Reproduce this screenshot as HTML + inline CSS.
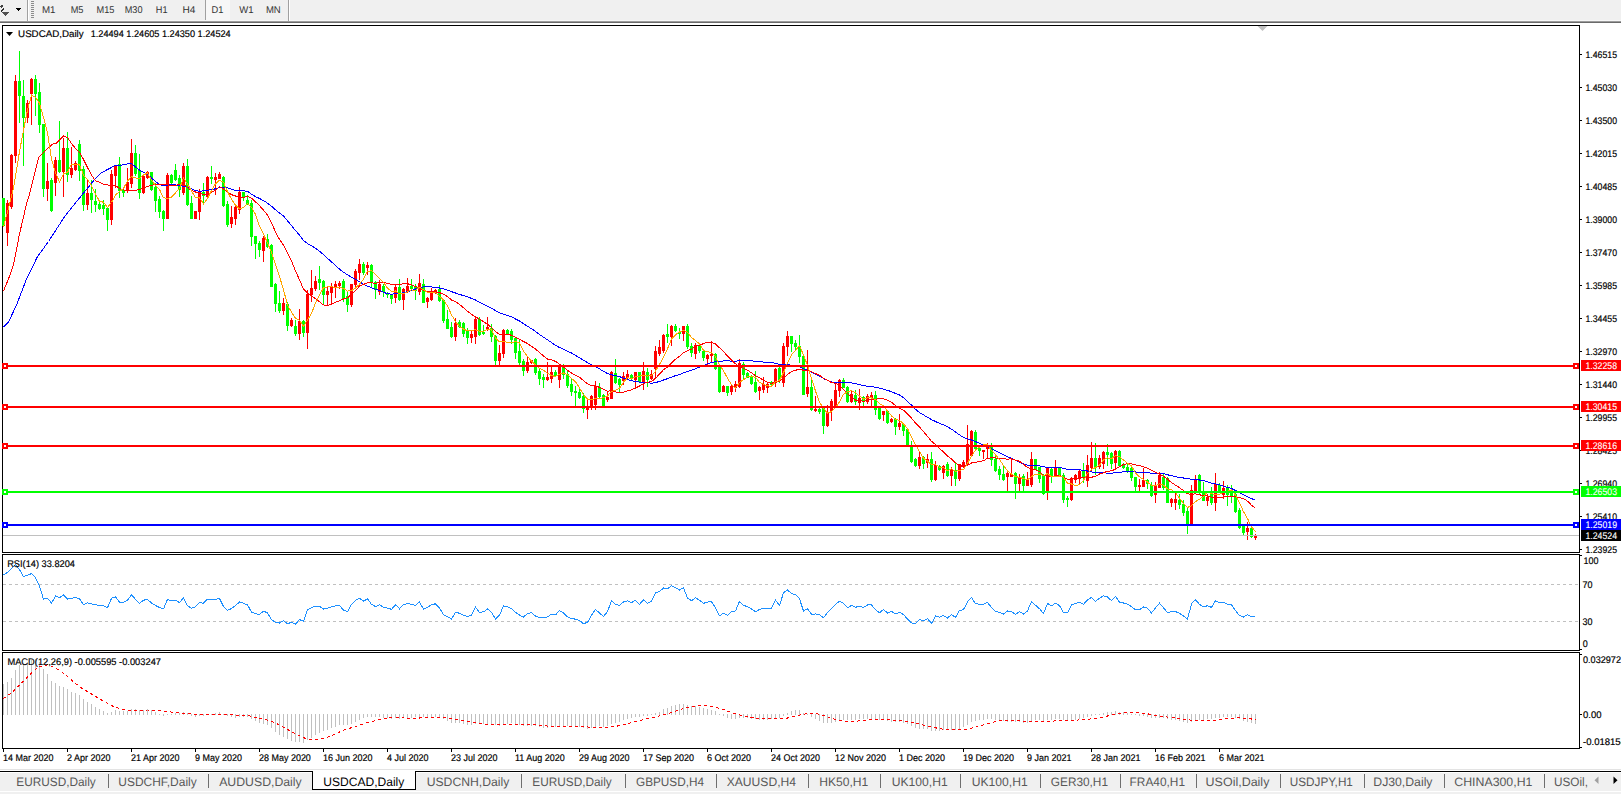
<!DOCTYPE html>
<html><head><meta charset="utf-8"><style>
html,body{margin:0;padding:0;background:#fff;width:1621px;height:794px;overflow:hidden;position:relative;font-family:"Liberation Sans",sans-serif}
</style></head><body>
<svg width="1621" height="794" viewBox="0 0 1621 794" shape-rendering="crispEdges" style="position:absolute;left:0;top:0">
<rect x="0" y="0" width="1621" height="794" fill="#ffffff" />
<rect x="0" y="0" width="1621" height="20" fill="#f0f0f0" />
<rect x="0" y="20" width="1622" height="1" fill="#f7f7f7" />
<rect x="0" y="21" width="1622" height="1" fill="#9c9c9c" />
<rect x="0" y="22" width="1622" height="1" fill="#6a6a6a" />
<path d="M0 6 L2 5 L3 6 L1 8 Z" fill="#404040"/>
<path d="M0 11 L3 8 L4 9 L1 12 Z" fill="#303030"/>
<path d="M2 12 L9 12 L5 16 Z" fill="#505050"/>
<path d="M16 8 L21 8 L18.5 11 Z" fill="#000"/>
<rect x="27" y="0" width="1" height="21" fill="#a0a0a0" />
<rect x="28" y="0" width="1" height="21" fill="#ffffff" />
<rect x="31" y="1" width="3" height="1" fill="#8c8c8c" />
<rect x="31" y="3" width="3" height="1" fill="#8c8c8c" />
<rect x="31" y="5" width="3" height="1" fill="#8c8c8c" />
<rect x="31" y="7" width="3" height="1" fill="#8c8c8c" />
<rect x="31" y="9" width="3" height="1" fill="#8c8c8c" />
<rect x="31" y="11" width="3" height="1" fill="#8c8c8c" />
<rect x="31" y="13" width="3" height="1" fill="#8c8c8c" />
<rect x="31" y="15" width="3" height="1" fill="#8c8c8c" />
<rect x="31" y="17" width="3" height="1" fill="#8c8c8c" />
<rect x="206" y="0" width="24" height="20" fill="#f7f7f7" />
<rect x="205" y="0" width="1" height="20" fill="#a0a0a0" />
<rect x="288" y="0" width="1" height="21" fill="#a0a0a0" />
<rect x="289" y="0" width="1" height="21" fill="#ffffff" />
<text x="42" y="13" font-family="Liberation Sans, sans-serif" text-rendering="geometricPrecision" font-size="9.9" fill="#333" textLength="13.5" lengthAdjust="spacingAndGlyphs">M1</text>
<text x="70.7" y="13" font-family="Liberation Sans, sans-serif" text-rendering="geometricPrecision" font-size="9.9" fill="#333" textLength="12.8" lengthAdjust="spacingAndGlyphs">M5</text>
<text x="96.6" y="13" font-family="Liberation Sans, sans-serif" text-rendering="geometricPrecision" font-size="9.9" fill="#333" textLength="17.9" lengthAdjust="spacingAndGlyphs">M15</text>
<text x="124.7" y="13" font-family="Liberation Sans, sans-serif" text-rendering="geometricPrecision" font-size="9.9" fill="#333" textLength="17.8" lengthAdjust="spacingAndGlyphs">M30</text>
<text x="155.8" y="13" font-family="Liberation Sans, sans-serif" text-rendering="geometricPrecision" font-size="9.9" fill="#333" textLength="11.7" lengthAdjust="spacingAndGlyphs">H1</text>
<text x="182.4" y="13" font-family="Liberation Sans, sans-serif" text-rendering="geometricPrecision" font-size="9.9" fill="#333" textLength="12.9" lengthAdjust="spacingAndGlyphs">H4</text>
<text x="211.6" y="13" font-family="Liberation Sans, sans-serif" text-rendering="geometricPrecision" font-size="9.9" fill="#333" textLength="11.9" lengthAdjust="spacingAndGlyphs">D1</text>
<text x="239.2" y="13" font-family="Liberation Sans, sans-serif" text-rendering="geometricPrecision" font-size="9.9" fill="#333" textLength="14.3" lengthAdjust="spacingAndGlyphs">W1</text>
<text x="265.9" y="13" font-family="Liberation Sans, sans-serif" text-rendering="geometricPrecision" font-size="9.9" fill="#333" textLength="14.8" lengthAdjust="spacingAndGlyphs">MN</text>
<rect x="2" y="25" width="1578" height="1" fill="#000" />
<rect x="2" y="552" width="1578" height="1" fill="#000" />
<rect x="2" y="25" width="1" height="528" fill="#000" />
<rect x="1579" y="25" width="1" height="528" fill="#000" />
<rect x="2" y="554" width="1578" height="1" fill="#000" />
<rect x="2" y="650" width="1578" height="1" fill="#000" />
<rect x="2" y="554" width="1" height="97" fill="#000" />
<rect x="1579" y="554" width="1" height="97" fill="#000" />
<rect x="2" y="652" width="1578" height="1" fill="#000" />
<rect x="2" y="748" width="1578" height="1" fill="#000" />
<rect x="2" y="652" width="1" height="97" fill="#000" />
<rect x="1579" y="652" width="1" height="97" fill="#000" />
<path d="M1257.5 26 L1267.5 26 L1262.5 31 Z" fill="#c0c0c0" shape-rendering="auto"/>
<rect x="1580" y="54" width="2" height="1" fill="#000" />
<text x="1585.5" y="58" font-family="Liberation Sans, sans-serif" text-rendering="geometricPrecision" font-size="9.6" fill="#000" stroke="#000" stroke-width="0.18" textLength="31.5" lengthAdjust="spacingAndGlyphs">1.46515</text>
<rect x="1580" y="87" width="2" height="1" fill="#000" />
<text x="1585.5" y="91" font-family="Liberation Sans, sans-serif" text-rendering="geometricPrecision" font-size="9.6" fill="#000" stroke="#000" stroke-width="0.18" textLength="31.5" lengthAdjust="spacingAndGlyphs">1.45030</text>
<rect x="1580" y="120" width="2" height="1" fill="#000" />
<text x="1585.5" y="124" font-family="Liberation Sans, sans-serif" text-rendering="geometricPrecision" font-size="9.6" fill="#000" stroke="#000" stroke-width="0.18" textLength="31.5" lengthAdjust="spacingAndGlyphs">1.43500</text>
<rect x="1580" y="153" width="2" height="1" fill="#000" />
<text x="1585.5" y="157" font-family="Liberation Sans, sans-serif" text-rendering="geometricPrecision" font-size="9.6" fill="#000" stroke="#000" stroke-width="0.18" textLength="31.5" lengthAdjust="spacingAndGlyphs">1.42015</text>
<rect x="1580" y="186" width="2" height="1" fill="#000" />
<text x="1585.5" y="190" font-family="Liberation Sans, sans-serif" text-rendering="geometricPrecision" font-size="9.6" fill="#000" stroke="#000" stroke-width="0.18" textLength="31.5" lengthAdjust="spacingAndGlyphs">1.40485</text>
<rect x="1580" y="219" width="2" height="1" fill="#000" />
<text x="1585.5" y="223" font-family="Liberation Sans, sans-serif" text-rendering="geometricPrecision" font-size="9.6" fill="#000" stroke="#000" stroke-width="0.18" textLength="31.5" lengthAdjust="spacingAndGlyphs">1.39000</text>
<rect x="1580" y="252" width="2" height="1" fill="#000" />
<text x="1585.5" y="256" font-family="Liberation Sans, sans-serif" text-rendering="geometricPrecision" font-size="9.6" fill="#000" stroke="#000" stroke-width="0.18" textLength="31.5" lengthAdjust="spacingAndGlyphs">1.37470</text>
<rect x="1580" y="285" width="2" height="1" fill="#000" />
<text x="1585.5" y="289" font-family="Liberation Sans, sans-serif" text-rendering="geometricPrecision" font-size="9.6" fill="#000" stroke="#000" stroke-width="0.18" textLength="31.5" lengthAdjust="spacingAndGlyphs">1.35985</text>
<rect x="1580" y="318" width="2" height="1" fill="#000" />
<text x="1585.5" y="322" font-family="Liberation Sans, sans-serif" text-rendering="geometricPrecision" font-size="9.6" fill="#000" stroke="#000" stroke-width="0.18" textLength="31.5" lengthAdjust="spacingAndGlyphs">1.34455</text>
<rect x="1580" y="351" width="2" height="1" fill="#000" />
<text x="1585.5" y="355" font-family="Liberation Sans, sans-serif" text-rendering="geometricPrecision" font-size="9.6" fill="#000" stroke="#000" stroke-width="0.18" textLength="31.5" lengthAdjust="spacingAndGlyphs">1.32970</text>
<rect x="1580" y="384" width="2" height="1" fill="#000" />
<text x="1585.5" y="388" font-family="Liberation Sans, sans-serif" text-rendering="geometricPrecision" font-size="9.6" fill="#000" stroke="#000" stroke-width="0.18" textLength="31.5" lengthAdjust="spacingAndGlyphs">1.31440</text>
<rect x="1580" y="417" width="2" height="1" fill="#000" />
<text x="1585.5" y="421" font-family="Liberation Sans, sans-serif" text-rendering="geometricPrecision" font-size="9.6" fill="#000" stroke="#000" stroke-width="0.18" textLength="31.5" lengthAdjust="spacingAndGlyphs">1.29955</text>
<rect x="1580" y="450" width="2" height="1" fill="#000" />
<text x="1585.5" y="454" font-family="Liberation Sans, sans-serif" text-rendering="geometricPrecision" font-size="9.6" fill="#000" stroke="#000" stroke-width="0.18" textLength="31.5" lengthAdjust="spacingAndGlyphs">1.28425</text>
<rect x="1580" y="483" width="2" height="1" fill="#000" />
<text x="1585.5" y="487" font-family="Liberation Sans, sans-serif" text-rendering="geometricPrecision" font-size="9.6" fill="#000" stroke="#000" stroke-width="0.18" textLength="31.5" lengthAdjust="spacingAndGlyphs">1.26940</text>
<rect x="1580" y="516" width="2" height="1" fill="#000" />
<text x="1585.5" y="520" font-family="Liberation Sans, sans-serif" text-rendering="geometricPrecision" font-size="9.6" fill="#000" stroke="#000" stroke-width="0.18" textLength="31.5" lengthAdjust="spacingAndGlyphs">1.25410</text>
<rect x="1580" y="549" width="2" height="1" fill="#000" />
<text x="1585.5" y="553" font-family="Liberation Sans, sans-serif" text-rendering="geometricPrecision" font-size="9.6" fill="#000" stroke="#000" stroke-width="0.18" textLength="31.5" lengthAdjust="spacingAndGlyphs">1.23925</text>
<g id="candles">
<rect x="3" y="198" width="1" height="29" fill="#00ff00" />
<rect x="2" y="198" width="3" height="28" fill="#00ff00" />
<rect x="7" y="200" width="1" height="46" fill="#ff0000" />
<rect x="6" y="203" width="3" height="30" fill="#ff0000" />
<rect x="11" y="154" width="1" height="55" fill="#ff0000" />
<rect x="10" y="155" width="3" height="52" fill="#ff0000" />
<rect x="15" y="75" width="1" height="88" fill="#ff0000" />
<rect x="14" y="81" width="3" height="75" fill="#ff0000" />
<rect x="19" y="51" width="1" height="72" fill="#00ff00" />
<rect x="18" y="81" width="3" height="15" fill="#00ff00" />
<rect x="23" y="80" width="1" height="86" fill="#00ff00" />
<rect x="22" y="96" width="3" height="22" fill="#00ff00" />
<rect x="27" y="100" width="1" height="23" fill="#ff0000" />
<rect x="26" y="103" width="3" height="15" fill="#ff0000" />
<rect x="31" y="78" width="1" height="47" fill="#ff0000" />
<rect x="30" y="79" width="3" height="15" fill="#ff0000" />
<rect x="35" y="75" width="1" height="41" fill="#00ff00" />
<rect x="34" y="79" width="3" height="15" fill="#00ff00" />
<rect x="39" y="83" width="1" height="50" fill="#00ff00" />
<rect x="38" y="92" width="3" height="33" fill="#00ff00" />
<rect x="43" y="124" width="1" height="73" fill="#00ff00" />
<rect x="42" y="124" width="3" height="65" fill="#00ff00" />
<rect x="47" y="163" width="1" height="38" fill="#ff0000" />
<rect x="46" y="181" width="3" height="8" fill="#ff0000" />
<rect x="51" y="178" width="1" height="34" fill="#00ff00" />
<rect x="50" y="180" width="3" height="31" fill="#00ff00" />
<rect x="55" y="157" width="1" height="39" fill="#ff0000" />
<rect x="54" y="160" width="3" height="23" fill="#ff0000" />
<rect x="59" y="121" width="1" height="52" fill="#00ff00" />
<rect x="58" y="160" width="3" height="12" fill="#00ff00" />
<rect x="63" y="138" width="1" height="59" fill="#ff0000" />
<rect x="62" y="148" width="3" height="24" fill="#ff0000" />
<rect x="67" y="132" width="1" height="50" fill="#00ff00" />
<rect x="66" y="148" width="3" height="27" fill="#00ff00" />
<rect x="71" y="147" width="1" height="31" fill="#ff0000" />
<rect x="70" y="168" width="3" height="7" fill="#ff0000" />
<rect x="75" y="161" width="1" height="10" fill="#ff0000" />
<rect x="74" y="163" width="3" height="7" fill="#ff0000" />
<rect x="79" y="140" width="1" height="41" fill="#00ff00" />
<rect x="78" y="144" width="3" height="27" fill="#00ff00" />
<rect x="83" y="166" width="1" height="45" fill="#00ff00" />
<rect x="82" y="169" width="3" height="36" fill="#00ff00" />
<rect x="87" y="180" width="1" height="30" fill="#ff0000" />
<rect x="86" y="193" width="3" height="12" fill="#ff0000" />
<rect x="91" y="180" width="1" height="33" fill="#00ff00" />
<rect x="90" y="193" width="3" height="7" fill="#00ff00" />
<rect x="95" y="189" width="1" height="23" fill="#00ff00" />
<rect x="94" y="201" width="3" height="4" fill="#00ff00" />
<rect x="99" y="202" width="1" height="8" fill="#00ff00" />
<rect x="98" y="204" width="3" height="5" fill="#00ff00" />
<rect x="103" y="200" width="1" height="15" fill="#00ff00" />
<rect x="102" y="205" width="3" height="4" fill="#00ff00" />
<rect x="107" y="207" width="1" height="24" fill="#00ff00" />
<rect x="106" y="208" width="3" height="12" fill="#00ff00" />
<rect x="111" y="170" width="1" height="55" fill="#ff0000" />
<rect x="110" y="174" width="3" height="46" fill="#ff0000" />
<rect x="115" y="165" width="1" height="23" fill="#ff0000" />
<rect x="114" y="166" width="3" height="10" fill="#ff0000" />
<rect x="119" y="157" width="1" height="41" fill="#00ff00" />
<rect x="118" y="164" width="3" height="27" fill="#00ff00" />
<rect x="123" y="189" width="1" height="8" fill="#00ff00" />
<rect x="122" y="190" width="3" height="3" fill="#00ff00" />
<rect x="127" y="168" width="1" height="25" fill="#ff0000" />
<rect x="126" y="182" width="3" height="9" fill="#ff0000" />
<rect x="131" y="139" width="1" height="49" fill="#ff0000" />
<rect x="130" y="153" width="3" height="31" fill="#ff0000" />
<rect x="135" y="145" width="1" height="31" fill="#00ff00" />
<rect x="134" y="153" width="3" height="21" fill="#00ff00" />
<rect x="139" y="154" width="1" height="45" fill="#00ff00" />
<rect x="138" y="170" width="3" height="23" fill="#00ff00" />
<rect x="143" y="174" width="1" height="20" fill="#ff0000" />
<rect x="142" y="176" width="3" height="17" fill="#ff0000" />
<rect x="147" y="171" width="1" height="8" fill="#ff0000" />
<rect x="146" y="172" width="3" height="6" fill="#ff0000" />
<rect x="151" y="172" width="1" height="19" fill="#00ff00" />
<rect x="150" y="172" width="3" height="18" fill="#00ff00" />
<rect x="155" y="183" width="1" height="29" fill="#00ff00" />
<rect x="154" y="187" width="3" height="14" fill="#00ff00" />
<rect x="159" y="196" width="1" height="22" fill="#00ff00" />
<rect x="158" y="199" width="3" height="13" fill="#00ff00" />
<rect x="163" y="210" width="1" height="21" fill="#00ff00" />
<rect x="162" y="211" width="3" height="8" fill="#00ff00" />
<rect x="167" y="173" width="1" height="46" fill="#ff0000" />
<rect x="166" y="175" width="3" height="44" fill="#ff0000" />
<rect x="171" y="174" width="1" height="12" fill="#00ff00" />
<rect x="170" y="175" width="3" height="8" fill="#00ff00" />
<rect x="175" y="164" width="1" height="17" fill="#00ff00" />
<rect x="174" y="170" width="3" height="10" fill="#00ff00" />
<rect x="179" y="175" width="1" height="22" fill="#00ff00" />
<rect x="178" y="178" width="3" height="12" fill="#00ff00" />
<rect x="183" y="163" width="1" height="32" fill="#ff0000" />
<rect x="182" y="166" width="3" height="27" fill="#ff0000" />
<rect x="187" y="159" width="1" height="47" fill="#00ff00" />
<rect x="186" y="166" width="3" height="39" fill="#00ff00" />
<rect x="191" y="196" width="1" height="23" fill="#00ff00" />
<rect x="190" y="203" width="3" height="16" fill="#00ff00" />
<rect x="195" y="211" width="1" height="8" fill="#ff0000" />
<rect x="194" y="211" width="3" height="8" fill="#ff0000" />
<rect x="199" y="189" width="1" height="31" fill="#ff0000" />
<rect x="198" y="192" width="3" height="20" fill="#ff0000" />
<rect x="203" y="183" width="1" height="22" fill="#00ff00" />
<rect x="202" y="192" width="3" height="4" fill="#00ff00" />
<rect x="207" y="176" width="1" height="22" fill="#ff0000" />
<rect x="206" y="177" width="3" height="20" fill="#ff0000" />
<rect x="211" y="166" width="1" height="18" fill="#00ff00" />
<rect x="210" y="177" width="3" height="2" fill="#00ff00" />
<rect x="215" y="173" width="1" height="22" fill="#ff0000" />
<rect x="214" y="177" width="3" height="3" fill="#ff0000" />
<rect x="219" y="172" width="1" height="7" fill="#ff0000" />
<rect x="218" y="174" width="3" height="5" fill="#ff0000" />
<rect x="223" y="176" width="1" height="31" fill="#00ff00" />
<rect x="222" y="177" width="3" height="29" fill="#00ff00" />
<rect x="227" y="201" width="1" height="26" fill="#00ff00" />
<rect x="226" y="204" width="3" height="21" fill="#00ff00" />
<rect x="231" y="206" width="1" height="22" fill="#ff0000" />
<rect x="230" y="217" width="3" height="7" fill="#ff0000" />
<rect x="235" y="204" width="1" height="21" fill="#ff0000" />
<rect x="234" y="207" width="3" height="12" fill="#ff0000" />
<rect x="239" y="187" width="1" height="27" fill="#ff0000" />
<rect x="238" y="192" width="3" height="18" fill="#ff0000" />
<rect x="243" y="192" width="1" height="9" fill="#00ff00" />
<rect x="242" y="192" width="3" height="6" fill="#00ff00" />
<rect x="247" y="195" width="1" height="10" fill="#00ff00" />
<rect x="246" y="200" width="3" height="5" fill="#00ff00" />
<rect x="251" y="200" width="1" height="46" fill="#00ff00" />
<rect x="250" y="203" width="3" height="34" fill="#00ff00" />
<rect x="255" y="236" width="1" height="23" fill="#00ff00" />
<rect x="254" y="236" width="3" height="8" fill="#00ff00" />
<rect x="259" y="241" width="1" height="16" fill="#00ff00" />
<rect x="258" y="243" width="3" height="7" fill="#00ff00" />
<rect x="263" y="236" width="1" height="26" fill="#ff0000" />
<rect x="262" y="238" width="3" height="13" fill="#ff0000" />
<rect x="267" y="234" width="1" height="14" fill="#00ff00" />
<rect x="266" y="239" width="3" height="8" fill="#00ff00" />
<rect x="271" y="244" width="1" height="43" fill="#00ff00" />
<rect x="270" y="245" width="3" height="42" fill="#00ff00" />
<rect x="275" y="283" width="1" height="29" fill="#00ff00" />
<rect x="274" y="284" width="3" height="20" fill="#00ff00" />
<rect x="279" y="291" width="1" height="22" fill="#00ff00" />
<rect x="278" y="303" width="3" height="8" fill="#00ff00" />
<rect x="283" y="298" width="1" height="17" fill="#ff0000" />
<rect x="282" y="303" width="3" height="8" fill="#ff0000" />
<rect x="287" y="302" width="1" height="29" fill="#00ff00" />
<rect x="286" y="304" width="3" height="22" fill="#00ff00" />
<rect x="291" y="318" width="1" height="9" fill="#ff0000" />
<rect x="290" y="320" width="3" height="6" fill="#ff0000" />
<rect x="295" y="320" width="1" height="16" fill="#00ff00" />
<rect x="294" y="326" width="3" height="8" fill="#00ff00" />
<rect x="299" y="309" width="1" height="31" fill="#ff0000" />
<rect x="298" y="321" width="3" height="13" fill="#ff0000" />
<rect x="303" y="320" width="1" height="17" fill="#00ff00" />
<rect x="302" y="321" width="3" height="12" fill="#00ff00" />
<rect x="307" y="290" width="1" height="59" fill="#ff0000" />
<rect x="306" y="294" width="3" height="39" fill="#ff0000" />
<rect x="311" y="270" width="1" height="32" fill="#ff0000" />
<rect x="310" y="288" width="3" height="7" fill="#ff0000" />
<rect x="315" y="276" width="1" height="15" fill="#ff0000" />
<rect x="314" y="281" width="3" height="8" fill="#ff0000" />
<rect x="319" y="266" width="1" height="24" fill="#00ff00" />
<rect x="318" y="279" width="3" height="4" fill="#00ff00" />
<rect x="323" y="280" width="1" height="25" fill="#00ff00" />
<rect x="322" y="281" width="3" height="14" fill="#00ff00" />
<rect x="327" y="286" width="1" height="20" fill="#ff0000" />
<rect x="326" y="291" width="3" height="4" fill="#ff0000" />
<rect x="331" y="283" width="1" height="21" fill="#ff0000" />
<rect x="330" y="287" width="3" height="6" fill="#ff0000" />
<rect x="335" y="281" width="1" height="17" fill="#ff0000" />
<rect x="334" y="284" width="3" height="4" fill="#ff0000" />
<rect x="339" y="281" width="1" height="8" fill="#ff0000" />
<rect x="338" y="283" width="3" height="3" fill="#ff0000" />
<rect x="343" y="279" width="1" height="23" fill="#00ff00" />
<rect x="342" y="281" width="3" height="18" fill="#00ff00" />
<rect x="347" y="292" width="1" height="20" fill="#00ff00" />
<rect x="346" y="296" width="3" height="9" fill="#00ff00" />
<rect x="351" y="284" width="1" height="23" fill="#ff0000" />
<rect x="350" y="284" width="3" height="21" fill="#ff0000" />
<rect x="355" y="269" width="1" height="19" fill="#ff0000" />
<rect x="354" y="271" width="3" height="14" fill="#ff0000" />
<rect x="359" y="259" width="1" height="21" fill="#ff0000" />
<rect x="358" y="264" width="3" height="9" fill="#ff0000" />
<rect x="363" y="262" width="1" height="13" fill="#00ff00" />
<rect x="362" y="264" width="3" height="9" fill="#00ff00" />
<rect x="367" y="262" width="1" height="13" fill="#ff0000" />
<rect x="366" y="265" width="3" height="3" fill="#ff0000" />
<rect x="371" y="264" width="1" height="23" fill="#00ff00" />
<rect x="370" y="265" width="3" height="18" fill="#00ff00" />
<rect x="375" y="281" width="1" height="18" fill="#00ff00" />
<rect x="374" y="282" width="3" height="8" fill="#00ff00" />
<rect x="379" y="280" width="1" height="15" fill="#ff0000" />
<rect x="378" y="284" width="3" height="8" fill="#ff0000" />
<rect x="383" y="284" width="1" height="13" fill="#00ff00" />
<rect x="382" y="286" width="3" height="6" fill="#00ff00" />
<rect x="387" y="292" width="1" height="6" fill="#00ff00" />
<rect x="386" y="293" width="3" height="2" fill="#00ff00" />
<rect x="391" y="294" width="1" height="10" fill="#00ff00" />
<rect x="390" y="294" width="3" height="5" fill="#00ff00" />
<rect x="395" y="285" width="1" height="18" fill="#ff0000" />
<rect x="394" y="287" width="3" height="11" fill="#ff0000" />
<rect x="399" y="279" width="1" height="22" fill="#00ff00" />
<rect x="398" y="287" width="3" height="13" fill="#00ff00" />
<rect x="403" y="288" width="1" height="22" fill="#ff0000" />
<rect x="402" y="289" width="3" height="11" fill="#ff0000" />
<rect x="407" y="278" width="1" height="15" fill="#ff0000" />
<rect x="406" y="286" width="3" height="5" fill="#ff0000" />
<rect x="411" y="279" width="1" height="10" fill="#00ff00" />
<rect x="410" y="286" width="3" height="3" fill="#00ff00" />
<rect x="415" y="284" width="1" height="16" fill="#00ff00" />
<rect x="414" y="287" width="3" height="4" fill="#00ff00" />
<rect x="419" y="274" width="1" height="21" fill="#ff0000" />
<rect x="418" y="283" width="3" height="9" fill="#ff0000" />
<rect x="423" y="279" width="1" height="24" fill="#00ff00" />
<rect x="422" y="284" width="3" height="19" fill="#00ff00" />
<rect x="427" y="297" width="1" height="11" fill="#ff0000" />
<rect x="426" y="298" width="3" height="4" fill="#ff0000" />
<rect x="431" y="288" width="1" height="13" fill="#ff0000" />
<rect x="430" y="292" width="3" height="8" fill="#ff0000" />
<rect x="435" y="289" width="1" height="5" fill="#ff0000" />
<rect x="434" y="290" width="3" height="3" fill="#ff0000" />
<rect x="439" y="285" width="1" height="17" fill="#00ff00" />
<rect x="438" y="289" width="3" height="12" fill="#00ff00" />
<rect x="443" y="300" width="1" height="23" fill="#00ff00" />
<rect x="442" y="300" width="3" height="21" fill="#00ff00" />
<rect x="447" y="310" width="1" height="19" fill="#00ff00" />
<rect x="446" y="319" width="3" height="10" fill="#00ff00" />
<rect x="451" y="322" width="1" height="16" fill="#00ff00" />
<rect x="450" y="327" width="3" height="10" fill="#00ff00" />
<rect x="455" y="318" width="1" height="23" fill="#ff0000" />
<rect x="454" y="323" width="3" height="14" fill="#ff0000" />
<rect x="459" y="320" width="1" height="8" fill="#00ff00" />
<rect x="458" y="322" width="3" height="5" fill="#00ff00" />
<rect x="463" y="322" width="1" height="15" fill="#00ff00" />
<rect x="462" y="323" width="3" height="11" fill="#00ff00" />
<rect x="467" y="328" width="1" height="16" fill="#00ff00" />
<rect x="466" y="331" width="3" height="7" fill="#00ff00" />
<rect x="471" y="331" width="1" height="12" fill="#ff0000" />
<rect x="470" y="334" width="3" height="4" fill="#ff0000" />
<rect x="475" y="316" width="1" height="28" fill="#ff0000" />
<rect x="474" y="319" width="3" height="18" fill="#ff0000" />
<rect x="479" y="317" width="1" height="19" fill="#00ff00" />
<rect x="478" y="319" width="3" height="16" fill="#00ff00" />
<rect x="483" y="325" width="1" height="10" fill="#00ff00" />
<rect x="482" y="332" width="3" height="2" fill="#00ff00" />
<rect x="487" y="317" width="1" height="14" fill="#ff0000" />
<rect x="486" y="327" width="3" height="3" fill="#ff0000" />
<rect x="491" y="324" width="1" height="18" fill="#00ff00" />
<rect x="490" y="328" width="3" height="9" fill="#00ff00" />
<rect x="495" y="335" width="1" height="31" fill="#00ff00" />
<rect x="494" y="336" width="3" height="25" fill="#00ff00" />
<rect x="499" y="345" width="1" height="20" fill="#ff0000" />
<rect x="498" y="353" width="3" height="8" fill="#ff0000" />
<rect x="503" y="329" width="1" height="29" fill="#ff0000" />
<rect x="502" y="330" width="3" height="24" fill="#ff0000" />
<rect x="507" y="329" width="1" height="6" fill="#00ff00" />
<rect x="506" y="330" width="3" height="4" fill="#00ff00" />
<rect x="511" y="329" width="1" height="15" fill="#00ff00" />
<rect x="510" y="331" width="3" height="9" fill="#00ff00" />
<rect x="515" y="338" width="1" height="21" fill="#00ff00" />
<rect x="514" y="338" width="3" height="15" fill="#00ff00" />
<rect x="519" y="340" width="1" height="26" fill="#00ff00" />
<rect x="518" y="351" width="3" height="12" fill="#00ff00" />
<rect x="523" y="359" width="1" height="17" fill="#00ff00" />
<rect x="522" y="361" width="3" height="10" fill="#00ff00" />
<rect x="527" y="357" width="1" height="16" fill="#ff0000" />
<rect x="526" y="362" width="3" height="9" fill="#ff0000" />
<rect x="531" y="360" width="1" height="4" fill="#ff0000" />
<rect x="530" y="360" width="3" height="3" fill="#ff0000" />
<rect x="535" y="358" width="1" height="17" fill="#00ff00" />
<rect x="534" y="359" width="3" height="14" fill="#00ff00" />
<rect x="539" y="368" width="1" height="17" fill="#00ff00" />
<rect x="538" y="371" width="3" height="8" fill="#00ff00" />
<rect x="543" y="374" width="1" height="14" fill="#00ff00" />
<rect x="542" y="377" width="3" height="3" fill="#00ff00" />
<rect x="547" y="362" width="1" height="19" fill="#ff0000" />
<rect x="546" y="377" width="3" height="3" fill="#ff0000" />
<rect x="551" y="367" width="1" height="16" fill="#ff0000" />
<rect x="550" y="372" width="3" height="7" fill="#ff0000" />
<rect x="555" y="370" width="1" height="7" fill="#00ff00" />
<rect x="554" y="372" width="3" height="4" fill="#00ff00" />
<rect x="559" y="365" width="1" height="23" fill="#ff0000" />
<rect x="558" y="367" width="3" height="13" fill="#ff0000" />
<rect x="563" y="364" width="1" height="15" fill="#00ff00" />
<rect x="562" y="367" width="3" height="8" fill="#00ff00" />
<rect x="567" y="370" width="1" height="18" fill="#00ff00" />
<rect x="566" y="374" width="3" height="12" fill="#00ff00" />
<rect x="571" y="379" width="1" height="17" fill="#00ff00" />
<rect x="570" y="384" width="3" height="8" fill="#00ff00" />
<rect x="575" y="386" width="1" height="21" fill="#00ff00" />
<rect x="574" y="391" width="3" height="2" fill="#00ff00" />
<rect x="579" y="388" width="1" height="11" fill="#00ff00" />
<rect x="578" y="392" width="3" height="6" fill="#00ff00" />
<rect x="583" y="393" width="1" height="20" fill="#00ff00" />
<rect x="582" y="396" width="3" height="13" fill="#00ff00" />
<rect x="587" y="399" width="1" height="20" fill="#ff0000" />
<rect x="586" y="406" width="3" height="4" fill="#ff0000" />
<rect x="591" y="395" width="1" height="15" fill="#ff0000" />
<rect x="590" y="396" width="3" height="12" fill="#ff0000" />
<rect x="595" y="381" width="1" height="29" fill="#ff0000" />
<rect x="594" y="386" width="3" height="19" fill="#ff0000" />
<rect x="599" y="383" width="1" height="16" fill="#00ff00" />
<rect x="598" y="388" width="3" height="9" fill="#00ff00" />
<rect x="603" y="394" width="1" height="13" fill="#00ff00" />
<rect x="602" y="395" width="3" height="12" fill="#00ff00" />
<rect x="607" y="392" width="1" height="10" fill="#ff0000" />
<rect x="606" y="397" width="3" height="3" fill="#ff0000" />
<rect x="611" y="371" width="1" height="28" fill="#ff0000" />
<rect x="610" y="372" width="3" height="27" fill="#ff0000" />
<rect x="615" y="359" width="1" height="25" fill="#00ff00" />
<rect x="614" y="373" width="3" height="10" fill="#00ff00" />
<rect x="619" y="378" width="1" height="14" fill="#00ff00" />
<rect x="618" y="379" width="3" height="6" fill="#00ff00" />
<rect x="623" y="372" width="1" height="13" fill="#ff0000" />
<rect x="622" y="376" width="3" height="5" fill="#ff0000" />
<rect x="627" y="370" width="1" height="10" fill="#ff0000" />
<rect x="626" y="374" width="3" height="4" fill="#ff0000" />
<rect x="631" y="374" width="1" height="7" fill="#00ff00" />
<rect x="630" y="375" width="3" height="3" fill="#00ff00" />
<rect x="635" y="372" width="1" height="16" fill="#ff0000" />
<rect x="634" y="372" width="3" height="8" fill="#ff0000" />
<rect x="639" y="372" width="1" height="11" fill="#00ff00" />
<rect x="638" y="372" width="3" height="10" fill="#00ff00" />
<rect x="643" y="362" width="1" height="28" fill="#ff0000" />
<rect x="642" y="371" width="3" height="11" fill="#ff0000" />
<rect x="647" y="368" width="1" height="19" fill="#00ff00" />
<rect x="646" y="372" width="3" height="8" fill="#00ff00" />
<rect x="651" y="370" width="1" height="10" fill="#ff0000" />
<rect x="650" y="374" width="3" height="5" fill="#ff0000" />
<rect x="655" y="346" width="1" height="32" fill="#ff0000" />
<rect x="654" y="351" width="3" height="18" fill="#ff0000" />
<rect x="659" y="340" width="1" height="16" fill="#ff0000" />
<rect x="658" y="347" width="3" height="7" fill="#ff0000" />
<rect x="663" y="334" width="1" height="19" fill="#ff0000" />
<rect x="662" y="335" width="3" height="16" fill="#ff0000" />
<rect x="667" y="324" width="1" height="19" fill="#00ff00" />
<rect x="666" y="334" width="3" height="3" fill="#00ff00" />
<rect x="671" y="325" width="1" height="21" fill="#ff0000" />
<rect x="670" y="326" width="3" height="11" fill="#ff0000" />
<rect x="675" y="324" width="1" height="8" fill="#00ff00" />
<rect x="674" y="326" width="3" height="5" fill="#00ff00" />
<rect x="679" y="328" width="1" height="11" fill="#00ff00" />
<rect x="678" y="332" width="3" height="2" fill="#00ff00" />
<rect x="683" y="326" width="1" height="15" fill="#ff0000" />
<rect x="682" y="326" width="3" height="8" fill="#ff0000" />
<rect x="687" y="324" width="1" height="25" fill="#00ff00" />
<rect x="686" y="326" width="3" height="21" fill="#00ff00" />
<rect x="691" y="343" width="1" height="14" fill="#00ff00" />
<rect x="690" y="346" width="3" height="7" fill="#00ff00" />
<rect x="695" y="343" width="1" height="16" fill="#ff0000" />
<rect x="694" y="345" width="3" height="9" fill="#ff0000" />
<rect x="699" y="345" width="1" height="8" fill="#00ff00" />
<rect x="698" y="346" width="3" height="5" fill="#00ff00" />
<rect x="703" y="350" width="1" height="11" fill="#00ff00" />
<rect x="702" y="351" width="3" height="7" fill="#00ff00" />
<rect x="707" y="354" width="1" height="11" fill="#ff0000" />
<rect x="706" y="355" width="3" height="4" fill="#ff0000" />
<rect x="711" y="341" width="1" height="22" fill="#ff0000" />
<rect x="710" y="354" width="3" height="2" fill="#ff0000" />
<rect x="715" y="353" width="1" height="17" fill="#00ff00" />
<rect x="714" y="354" width="3" height="15" fill="#00ff00" />
<rect x="719" y="367" width="1" height="26" fill="#00ff00" />
<rect x="718" y="367" width="3" height="25" fill="#00ff00" />
<rect x="723" y="385" width="1" height="7" fill="#ff0000" />
<rect x="722" y="386" width="3" height="6" fill="#ff0000" />
<rect x="727" y="386" width="1" height="10" fill="#00ff00" />
<rect x="726" y="386" width="3" height="7" fill="#00ff00" />
<rect x="731" y="385" width="1" height="10" fill="#ff0000" />
<rect x="730" y="386" width="3" height="6" fill="#ff0000" />
<rect x="735" y="381" width="1" height="11" fill="#ff0000" />
<rect x="734" y="384" width="3" height="4" fill="#ff0000" />
<rect x="739" y="359" width="1" height="29" fill="#ff0000" />
<rect x="738" y="363" width="3" height="24" fill="#ff0000" />
<rect x="743" y="362" width="1" height="17" fill="#00ff00" />
<rect x="742" y="364" width="3" height="11" fill="#00ff00" />
<rect x="747" y="372" width="1" height="6" fill="#00ff00" />
<rect x="746" y="373" width="3" height="5" fill="#00ff00" />
<rect x="751" y="375" width="1" height="10" fill="#00ff00" />
<rect x="750" y="376" width="3" height="8" fill="#00ff00" />
<rect x="755" y="371" width="1" height="22" fill="#00ff00" />
<rect x="754" y="382" width="3" height="10" fill="#00ff00" />
<rect x="759" y="386" width="1" height="14" fill="#ff0000" />
<rect x="758" y="387" width="3" height="4" fill="#ff0000" />
<rect x="763" y="377" width="1" height="16" fill="#ff0000" />
<rect x="762" y="384" width="3" height="6" fill="#ff0000" />
<rect x="767" y="382" width="1" height="11" fill="#ff0000" />
<rect x="766" y="384" width="3" height="4" fill="#ff0000" />
<rect x="771" y="381" width="1" height="6" fill="#00ff00" />
<rect x="770" y="382" width="3" height="3" fill="#00ff00" />
<rect x="775" y="368" width="1" height="19" fill="#ff0000" />
<rect x="774" y="369" width="3" height="14" fill="#ff0000" />
<rect x="779" y="367" width="1" height="16" fill="#00ff00" />
<rect x="778" y="368" width="3" height="13" fill="#00ff00" />
<rect x="783" y="343" width="1" height="44" fill="#ff0000" />
<rect x="782" y="346" width="3" height="37" fill="#ff0000" />
<rect x="787" y="331" width="1" height="25" fill="#ff0000" />
<rect x="786" y="336" width="3" height="11" fill="#ff0000" />
<rect x="791" y="336" width="1" height="16" fill="#00ff00" />
<rect x="790" y="336" width="3" height="8" fill="#00ff00" />
<rect x="795" y="340" width="1" height="11" fill="#00ff00" />
<rect x="794" y="343" width="3" height="4" fill="#00ff00" />
<rect x="799" y="335" width="1" height="28" fill="#00ff00" />
<rect x="798" y="346" width="3" height="11" fill="#00ff00" />
<rect x="803" y="355" width="1" height="40" fill="#00ff00" />
<rect x="802" y="356" width="3" height="39" fill="#00ff00" />
<rect x="807" y="350" width="1" height="47" fill="#ff0000" />
<rect x="806" y="387" width="3" height="7" fill="#ff0000" />
<rect x="811" y="380" width="1" height="31" fill="#00ff00" />
<rect x="810" y="387" width="3" height="23" fill="#00ff00" />
<rect x="815" y="396" width="1" height="16" fill="#ff0000" />
<rect x="814" y="409" width="3" height="2" fill="#ff0000" />
<rect x="819" y="408" width="1" height="6" fill="#00ff00" />
<rect x="818" y="409" width="3" height="3" fill="#00ff00" />
<rect x="823" y="408" width="1" height="26" fill="#00ff00" />
<rect x="822" y="408" width="3" height="18" fill="#00ff00" />
<rect x="827" y="405" width="1" height="22" fill="#ff0000" />
<rect x="826" y="412" width="3" height="14" fill="#ff0000" />
<rect x="831" y="399" width="1" height="22" fill="#ff0000" />
<rect x="830" y="401" width="3" height="10" fill="#ff0000" />
<rect x="835" y="383" width="1" height="25" fill="#ff0000" />
<rect x="834" y="390" width="3" height="17" fill="#ff0000" />
<rect x="839" y="379" width="1" height="18" fill="#ff0000" />
<rect x="838" y="380" width="3" height="11" fill="#ff0000" />
<rect x="843" y="378" width="1" height="10" fill="#00ff00" />
<rect x="842" y="380" width="3" height="8" fill="#00ff00" />
<rect x="847" y="386" width="1" height="17" fill="#00ff00" />
<rect x="846" y="387" width="3" height="15" fill="#00ff00" />
<rect x="851" y="390" width="1" height="13" fill="#ff0000" />
<rect x="850" y="394" width="3" height="8" fill="#ff0000" />
<rect x="855" y="390" width="1" height="15" fill="#00ff00" />
<rect x="854" y="395" width="3" height="7" fill="#00ff00" />
<rect x="859" y="389" width="1" height="21" fill="#ff0000" />
<rect x="858" y="398" width="3" height="5" fill="#ff0000" />
<rect x="863" y="396" width="1" height="11" fill="#00ff00" />
<rect x="862" y="397" width="3" height="5" fill="#00ff00" />
<rect x="867" y="394" width="1" height="10" fill="#ff0000" />
<rect x="866" y="396" width="3" height="6" fill="#ff0000" />
<rect x="871" y="392" width="1" height="16" fill="#ff0000" />
<rect x="870" y="395" width="3" height="3" fill="#ff0000" />
<rect x="875" y="391" width="1" height="24" fill="#00ff00" />
<rect x="874" y="395" width="3" height="15" fill="#00ff00" />
<rect x="879" y="406" width="1" height="14" fill="#00ff00" />
<rect x="878" y="408" width="3" height="11" fill="#00ff00" />
<rect x="883" y="411" width="1" height="10" fill="#ff0000" />
<rect x="882" y="411" width="3" height="4" fill="#ff0000" />
<rect x="887" y="410" width="1" height="14" fill="#00ff00" />
<rect x="886" y="411" width="3" height="12" fill="#00ff00" />
<rect x="891" y="418" width="1" height="5" fill="#ff0000" />
<rect x="890" y="419" width="3" height="3" fill="#ff0000" />
<rect x="895" y="418" width="1" height="17" fill="#00ff00" />
<rect x="894" y="419" width="3" height="8" fill="#00ff00" />
<rect x="899" y="414" width="1" height="16" fill="#ff0000" />
<rect x="898" y="423" width="3" height="4" fill="#ff0000" />
<rect x="903" y="423" width="1" height="13" fill="#00ff00" />
<rect x="902" y="424" width="3" height="7" fill="#00ff00" />
<rect x="907" y="428" width="1" height="18" fill="#00ff00" />
<rect x="906" y="429" width="3" height="17" fill="#00ff00" />
<rect x="911" y="441" width="1" height="22" fill="#00ff00" />
<rect x="910" y="445" width="3" height="17" fill="#00ff00" />
<rect x="915" y="458" width="1" height="9" fill="#00ff00" />
<rect x="914" y="459" width="3" height="7" fill="#00ff00" />
<rect x="919" y="452" width="1" height="17" fill="#ff0000" />
<rect x="918" y="457" width="3" height="9" fill="#ff0000" />
<rect x="923" y="456" width="1" height="13" fill="#00ff00" />
<rect x="922" y="457" width="3" height="7" fill="#00ff00" />
<rect x="927" y="454" width="1" height="14" fill="#ff0000" />
<rect x="926" y="459" width="3" height="4" fill="#ff0000" />
<rect x="931" y="452" width="1" height="30" fill="#00ff00" />
<rect x="930" y="459" width="3" height="21" fill="#00ff00" />
<rect x="935" y="461" width="1" height="20" fill="#ff0000" />
<rect x="934" y="465" width="3" height="15" fill="#ff0000" />
<rect x="939" y="465" width="1" height="6" fill="#00ff00" />
<rect x="938" y="466" width="3" height="4" fill="#00ff00" />
<rect x="943" y="465" width="1" height="14" fill="#ff0000" />
<rect x="942" y="466" width="3" height="7" fill="#ff0000" />
<rect x="947" y="462" width="1" height="15" fill="#00ff00" />
<rect x="946" y="464" width="3" height="12" fill="#00ff00" />
<rect x="951" y="467" width="1" height="19" fill="#ff0000" />
<rect x="950" y="469" width="3" height="7" fill="#ff0000" />
<rect x="955" y="463" width="1" height="23" fill="#00ff00" />
<rect x="954" y="470" width="3" height="9" fill="#00ff00" />
<rect x="959" y="464" width="1" height="17" fill="#ff0000" />
<rect x="958" y="464" width="3" height="15" fill="#ff0000" />
<rect x="963" y="460" width="1" height="8" fill="#ff0000" />
<rect x="962" y="462" width="3" height="5" fill="#ff0000" />
<rect x="967" y="425" width="1" height="40" fill="#ff0000" />
<rect x="966" y="444" width="3" height="21" fill="#ff0000" />
<rect x="971" y="430" width="1" height="27" fill="#ff0000" />
<rect x="970" y="431" width="3" height="25" fill="#ff0000" />
<rect x="975" y="430" width="1" height="20" fill="#00ff00" />
<rect x="974" y="432" width="3" height="17" fill="#00ff00" />
<rect x="979" y="445" width="1" height="11" fill="#00ff00" />
<rect x="978" y="448" width="3" height="3" fill="#00ff00" />
<rect x="983" y="450" width="1" height="9" fill="#ff0000" />
<rect x="982" y="450" width="3" height="2" fill="#ff0000" />
<rect x="987" y="443" width="1" height="16" fill="#ff0000" />
<rect x="986" y="445" width="3" height="4" fill="#ff0000" />
<rect x="991" y="443" width="1" height="23" fill="#00ff00" />
<rect x="990" y="446" width="3" height="14" fill="#00ff00" />
<rect x="995" y="454" width="1" height="18" fill="#00ff00" />
<rect x="994" y="459" width="3" height="12" fill="#00ff00" />
<rect x="999" y="466" width="1" height="14" fill="#00ff00" />
<rect x="998" y="469" width="3" height="6" fill="#00ff00" />
<rect x="1003" y="466" width="1" height="15" fill="#00ff00" />
<rect x="1002" y="474" width="3" height="6" fill="#00ff00" />
<rect x="1007" y="472" width="1" height="19" fill="#ff0000" />
<rect x="1006" y="473" width="3" height="4" fill="#ff0000" />
<rect x="1011" y="459" width="1" height="18" fill="#ff0000" />
<rect x="1010" y="474" width="3" height="3" fill="#ff0000" />
<rect x="1015" y="472" width="1" height="27" fill="#00ff00" />
<rect x="1014" y="473" width="3" height="11" fill="#00ff00" />
<rect x="1019" y="474" width="1" height="18" fill="#ff0000" />
<rect x="1018" y="478" width="3" height="6" fill="#ff0000" />
<rect x="1023" y="474" width="1" height="18" fill="#00ff00" />
<rect x="1022" y="476" width="3" height="10" fill="#00ff00" />
<rect x="1027" y="472" width="1" height="14" fill="#ff0000" />
<rect x="1026" y="479" width="3" height="7" fill="#ff0000" />
<rect x="1031" y="452" width="1" height="35" fill="#ff0000" />
<rect x="1030" y="459" width="3" height="26" fill="#ff0000" />
<rect x="1035" y="459" width="1" height="11" fill="#00ff00" />
<rect x="1034" y="459" width="3" height="11" fill="#00ff00" />
<rect x="1039" y="467" width="1" height="16" fill="#00ff00" />
<rect x="1038" y="467" width="3" height="12" fill="#00ff00" />
<rect x="1043" y="474" width="1" height="21" fill="#00ff00" />
<rect x="1042" y="476" width="3" height="18" fill="#00ff00" />
<rect x="1047" y="468" width="1" height="32" fill="#ff0000" />
<rect x="1046" y="468" width="3" height="23" fill="#ff0000" />
<rect x="1051" y="468" width="1" height="15" fill="#00ff00" />
<rect x="1050" y="469" width="3" height="7" fill="#00ff00" />
<rect x="1055" y="460" width="1" height="17" fill="#ff0000" />
<rect x="1054" y="468" width="3" height="8" fill="#ff0000" />
<rect x="1059" y="468" width="1" height="9" fill="#00ff00" />
<rect x="1058" y="468" width="3" height="8" fill="#00ff00" />
<rect x="1063" y="473" width="1" height="30" fill="#00ff00" />
<rect x="1062" y="475" width="3" height="25" fill="#00ff00" />
<rect x="1067" y="496" width="1" height="11" fill="#00ff00" />
<rect x="1066" y="498" width="3" height="2" fill="#00ff00" />
<rect x="1071" y="477" width="1" height="24" fill="#ff0000" />
<rect x="1070" y="479" width="3" height="21" fill="#ff0000" />
<rect x="1075" y="474" width="1" height="9" fill="#ff0000" />
<rect x="1074" y="475" width="3" height="5" fill="#ff0000" />
<rect x="1079" y="470" width="1" height="15" fill="#ff0000" />
<rect x="1078" y="471" width="3" height="8" fill="#ff0000" />
<rect x="1083" y="463" width="1" height="20" fill="#00ff00" />
<rect x="1082" y="470" width="3" height="8" fill="#00ff00" />
<rect x="1087" y="455" width="1" height="32" fill="#ff0000" />
<rect x="1086" y="465" width="3" height="16" fill="#ff0000" />
<rect x="1091" y="442" width="1" height="29" fill="#ff0000" />
<rect x="1090" y="458" width="3" height="10" fill="#ff0000" />
<rect x="1095" y="443" width="1" height="32" fill="#00ff00" />
<rect x="1094" y="458" width="3" height="10" fill="#00ff00" />
<rect x="1099" y="455" width="1" height="14" fill="#ff0000" />
<rect x="1098" y="458" width="3" height="9" fill="#ff0000" />
<rect x="1103" y="451" width="1" height="18" fill="#ff0000" />
<rect x="1102" y="452" width="3" height="12" fill="#ff0000" />
<rect x="1107" y="444" width="1" height="22" fill="#00ff00" />
<rect x="1106" y="452" width="3" height="3" fill="#00ff00" />
<rect x="1111" y="452" width="1" height="17" fill="#00ff00" />
<rect x="1110" y="453" width="3" height="11" fill="#00ff00" />
<rect x="1115" y="450" width="1" height="18" fill="#ff0000" />
<rect x="1114" y="451" width="3" height="12" fill="#ff0000" />
<rect x="1119" y="450" width="1" height="16" fill="#00ff00" />
<rect x="1118" y="451" width="3" height="15" fill="#00ff00" />
<rect x="1123" y="463" width="1" height="6" fill="#00ff00" />
<rect x="1122" y="464" width="3" height="4" fill="#00ff00" />
<rect x="1127" y="464" width="1" height="9" fill="#00ff00" />
<rect x="1126" y="467" width="3" height="4" fill="#00ff00" />
<rect x="1131" y="467" width="1" height="14" fill="#00ff00" />
<rect x="1130" y="468" width="3" height="10" fill="#00ff00" />
<rect x="1135" y="477" width="1" height="14" fill="#00ff00" />
<rect x="1134" y="477" width="3" height="10" fill="#00ff00" />
<rect x="1139" y="479" width="1" height="12" fill="#ff0000" />
<rect x="1138" y="485" width="3" height="2" fill="#ff0000" />
<rect x="1143" y="468" width="1" height="19" fill="#ff0000" />
<rect x="1142" y="480" width="3" height="7" fill="#ff0000" />
<rect x="1147" y="479" width="1" height="10" fill="#00ff00" />
<rect x="1146" y="480" width="3" height="4" fill="#00ff00" />
<rect x="1151" y="482" width="1" height="15" fill="#00ff00" />
<rect x="1150" y="485" width="3" height="11" fill="#00ff00" />
<rect x="1155" y="482" width="1" height="21" fill="#ff0000" />
<rect x="1154" y="486" width="3" height="9" fill="#ff0000" />
<rect x="1159" y="472" width="1" height="16" fill="#ff0000" />
<rect x="1158" y="475" width="3" height="13" fill="#ff0000" />
<rect x="1163" y="474" width="1" height="16" fill="#00ff00" />
<rect x="1162" y="477" width="3" height="11" fill="#00ff00" />
<rect x="1167" y="477" width="1" height="26" fill="#00ff00" />
<rect x="1166" y="478" width="3" height="25" fill="#00ff00" />
<rect x="1171" y="498" width="1" height="9" fill="#ff0000" />
<rect x="1170" y="499" width="3" height="4" fill="#ff0000" />
<rect x="1175" y="493" width="1" height="17" fill="#ff0000" />
<rect x="1174" y="499" width="3" height="4" fill="#ff0000" />
<rect x="1179" y="494" width="1" height="15" fill="#00ff00" />
<rect x="1178" y="500" width="3" height="5" fill="#00ff00" />
<rect x="1183" y="500" width="1" height="16" fill="#00ff00" />
<rect x="1182" y="504" width="3" height="9" fill="#00ff00" />
<rect x="1187" y="507" width="1" height="27" fill="#00ff00" />
<rect x="1186" y="511" width="3" height="13" fill="#00ff00" />
<rect x="1191" y="485" width="1" height="40" fill="#ff0000" />
<rect x="1190" y="490" width="3" height="34" fill="#ff0000" />
<rect x="1195" y="475" width="1" height="18" fill="#ff0000" />
<rect x="1194" y="479" width="3" height="13" fill="#ff0000" />
<rect x="1199" y="474" width="1" height="21" fill="#00ff00" />
<rect x="1198" y="475" width="3" height="18" fill="#00ff00" />
<rect x="1203" y="482" width="1" height="19" fill="#00ff00" />
<rect x="1202" y="492" width="3" height="9" fill="#00ff00" />
<rect x="1207" y="494" width="1" height="12" fill="#ff0000" />
<rect x="1206" y="497" width="3" height="4" fill="#ff0000" />
<rect x="1211" y="487" width="1" height="18" fill="#00ff00" />
<rect x="1210" y="494" width="3" height="9" fill="#00ff00" />
<rect x="1215" y="473" width="1" height="38" fill="#ff0000" />
<rect x="1214" y="484" width="3" height="19" fill="#ff0000" />
<rect x="1219" y="483" width="1" height="8" fill="#00ff00" />
<rect x="1218" y="485" width="3" height="6" fill="#00ff00" />
<rect x="1223" y="481" width="1" height="18" fill="#ff0000" />
<rect x="1222" y="488" width="3" height="7" fill="#ff0000" />
<rect x="1227" y="485" width="1" height="21" fill="#00ff00" />
<rect x="1226" y="488" width="3" height="7" fill="#00ff00" />
<rect x="1231" y="485" width="1" height="18" fill="#00ff00" />
<rect x="1230" y="492" width="3" height="4" fill="#00ff00" />
<rect x="1235" y="493" width="1" height="20" fill="#00ff00" />
<rect x="1234" y="494" width="3" height="18" fill="#00ff00" />
<rect x="1239" y="508" width="1" height="21" fill="#00ff00" />
<rect x="1238" y="510" width="3" height="18" fill="#00ff00" />
<rect x="1243" y="526" width="1" height="9" fill="#00ff00" />
<rect x="1242" y="526" width="3" height="7" fill="#00ff00" />
<rect x="1247" y="522" width="1" height="18" fill="#ff0000" />
<rect x="1246" y="528" width="3" height="4" fill="#ff0000" />
<rect x="1251" y="527" width="1" height="11" fill="#00ff00" />
<rect x="1250" y="528" width="3" height="9" fill="#00ff00" />
<rect x="1255" y="534" width="1" height="6" fill="#ff0000" />
<rect x="1254" y="536" width="3" height="2" fill="#ff0000" />
</g>
<polyline points="3.5,327.0 8.5,322.0 16.5,305.0 26.5,279.0 37.5,256.6 48.5,241.5 65.0,216.0 81.1,196.0 94.2,180.0 101.2,172.8 114.5,165.9 119.5,165.7 123.5,164.6 127.5,163.9 131.5,163.8 135.5,166.9 139.5,170.1 143.5,172.1 147.5,174.4 151.5,178.0 155.5,181.6 159.5,184.5 163.5,185.5 167.5,185.3 171.5,184.3 175.5,185.0 179.5,185.6 183.5,186.2 187.5,187.2 191.5,188.9 195.5,190.5 199.5,191.2 203.5,190.9 207.5,190.3 211.5,189.7 215.5,188.8 219.5,187.6 223.5,187.5 227.5,187.7 231.5,189.1 235.5,190.5 239.5,190.5 243.5,190.7 247.5,191.4 251.5,194.2 255.5,196.6 259.5,198.5 263.5,200.6 267.5,203.1 271.5,206.3 275.5,209.7 279.5,213.0 283.5,215.9 287.5,220.9 291.5,225.5 295.5,230.6 299.5,235.0 303.5,240.5 307.5,243.5 311.5,245.9 315.5,248.2 319.5,251.2 323.5,254.5 327.5,258.3 331.5,261.9 335.5,265.5 339.5,269.1 343.5,272.2 347.5,274.9 351.5,277.1 355.5,279.3 359.5,281.7 363.5,284.2 367.5,286.2 371.5,287.7 375.5,289.2 379.5,290.4 383.5,292.2 387.5,293.8 391.5,294.2 395.5,293.6 399.5,293.3 403.5,292.8 407.5,291.6 411.5,290.5 415.5,289.0 419.5,287.8 423.5,286.8 427.5,286.9 431.5,287.0 435.5,287.3 439.5,288.0 443.5,288.8 447.5,290.1 451.5,291.7 455.5,293.0 459.5,294.4 463.5,295.6 467.5,296.7 471.5,298.4 475.5,300.0 479.5,302.3 483.5,304.3 487.5,306.4 491.5,308.2 495.5,310.6 499.5,312.9 503.5,314.2 507.5,315.5 511.5,316.8 515.5,319.0 519.5,321.0 523.5,323.7 527.5,326.3 531.5,328.7 535.5,331.4 539.5,334.5 543.5,337.1 547.5,339.8 551.5,342.5 555.5,345.3 559.5,347.5 563.5,349.3 567.5,351.2 571.5,353.0 575.5,355.4 579.5,357.7 583.5,360.2 587.5,362.6 591.5,364.6 595.5,366.8 599.5,368.9 603.5,371.3 607.5,373.6 611.5,374.8 615.5,375.6 619.5,376.6 623.5,378.1 627.5,379.5 631.5,380.8 635.5,381.5 639.5,382.1 643.5,382.2 647.5,382.7 651.5,383.2 655.5,382.5 659.5,381.5 663.5,380.0 667.5,378.7 671.5,377.1 675.5,375.6 679.5,374.5 683.5,372.9 687.5,371.6 691.5,370.3 695.5,368.7 699.5,367.2 703.5,365.5 707.5,363.8 711.5,362.3 715.5,361.8 719.5,361.6 723.5,361.0 727.5,360.8 731.5,361.2 735.5,361.3 739.5,360.6 743.5,360.5 747.5,360.6 751.5,360.8 755.5,361.5 759.5,361.7 763.5,362.1 767.5,362.3 771.5,362.6 775.5,363.2 779.5,364.3 783.5,364.7 787.5,364.7 791.5,365.2 795.5,365.8 799.5,366.6 803.5,368.8 807.5,370.2 811.5,372.1 815.5,374.2 819.5,376.2 823.5,378.5 827.5,380.4 831.5,382.0 835.5,382.7 839.5,382.4 843.5,382.4 847.5,382.7 851.5,383.0 855.5,383.5 859.5,384.7 863.5,385.6 867.5,386.2 871.5,386.6 875.5,387.2 879.5,388.2 883.5,389.1 887.5,390.4 891.5,391.6 895.5,393.5 899.5,394.9 903.5,397.7 907.5,401.3 911.5,405.2 915.5,409.2 919.5,412.6 923.5,414.9 927.5,417.3 931.5,419.6 935.5,421.5 939.5,423.4 943.5,424.8 947.5,426.9 951.5,429.1 955.5,432.1 959.5,434.8 963.5,437.4 967.5,438.8 971.5,440.0 975.5,441.6 979.5,443.3 983.5,445.0 987.5,446.6 991.5,448.8 995.5,450.8 999.5,452.6 1003.5,454.9 1007.5,456.6 1011.5,458.5 1015.5,460.4 1019.5,462.2 1023.5,464.0 1027.5,465.2 1031.5,465.1 1035.5,465.2 1039.5,465.9 1043.5,466.9 1047.5,467.2 1051.5,467.1 1055.5,467.2 1059.5,467.4 1063.5,468.5 1067.5,469.3 1071.5,469.7 1075.5,469.6 1079.5,469.8 1083.5,470.3 1087.5,471.0 1091.5,471.9 1095.5,472.5 1099.5,472.8 1103.5,472.8 1107.5,473.1 1111.5,473.3 1115.5,472.6 1119.5,472.3 1123.5,471.9 1127.5,471.8 1131.5,471.9 1135.5,472.0 1139.5,472.2 1143.5,472.1 1147.5,472.2 1151.5,473.4 1155.5,473.9 1159.5,473.9 1163.5,473.7 1167.5,474.8 1171.5,475.6 1175.5,476.6 1179.5,477.6 1183.5,478.0 1187.5,478.8 1191.5,479.2 1195.5,479.3 1199.5,480.0 1203.5,480.7 1207.5,481.8 1211.5,483.3 1215.5,483.8 1219.5,484.9 1223.5,486.1 1227.5,487.4 1231.5,488.5 1235.5,490.5 1239.5,492.5 1243.5,494.7 1247.5,496.6 1251.5,498.6 1255.5,500.3" fill="none" stroke="#0000ff" stroke-width="1" />
<polyline points="3.5,291.0 8.5,279.0 13.5,264.7 19.5,234.0 26.5,204.0 28.7,197.0 33.7,177.0 38.8,157.0 46.9,149.0 52.9,144.0 55.5,143.8 59.5,140.0 63.5,136.0 67.5,137.4 71.5,143.6 75.5,148.5 79.5,152.2 83.5,159.4 87.5,167.5 91.5,175.1 95.5,180.8 99.5,182.2 103.5,184.1 107.5,184.8 111.5,185.8 115.5,185.4 119.5,188.5 123.5,189.8 127.5,190.8 131.5,190.1 135.5,190.3 139.5,189.4 143.5,188.2 147.5,186.3 151.5,185.2 155.5,184.7 159.5,184.9 163.5,184.8 167.5,184.9 171.5,186.0 175.5,185.1 179.5,184.9 183.5,183.8 187.5,187.4 191.5,190.6 195.5,192.0 199.5,193.1 203.5,194.8 207.5,193.9 211.5,192.4 215.5,190.0 219.5,186.8 223.5,189.0 227.5,192.0 231.5,194.7 235.5,196.0 239.5,197.8 243.5,197.3 247.5,196.3 251.5,198.2 255.5,201.8 259.5,205.7 263.5,210.1 267.5,215.0 271.5,222.7 275.5,232.0 279.5,239.5 283.5,245.1 287.5,252.8 291.5,260.9 295.5,271.0 299.5,279.9 303.5,289.0 307.5,293.1 311.5,296.3 315.5,298.5 319.5,301.7 323.5,305.0 327.5,305.4 331.5,304.2 335.5,302.3 339.5,300.9 343.5,299.0 347.5,297.8 351.5,294.4 355.5,290.8 359.5,286.0 363.5,284.4 367.5,282.8 371.5,282.9 375.5,283.3 379.5,282.7 383.5,282.7 387.5,283.2 391.5,284.3 395.5,284.6 399.5,284.7 403.5,283.6 407.5,283.7 411.5,284.9 415.5,286.8 419.5,287.6 423.5,290.2 427.5,291.3 431.5,291.6 435.5,291.9 439.5,292.6 443.5,294.4 447.5,296.5 451.5,300.0 455.5,301.7 459.5,304.4 463.5,307.7 467.5,311.2 471.5,314.3 475.5,316.9 479.5,319.2 483.5,321.7 487.5,324.2 491.5,327.6 495.5,331.8 499.5,334.2 503.5,334.4 507.5,334.1 511.5,335.3 515.5,337.1 519.5,339.2 523.5,341.5 527.5,343.5 531.5,346.4 535.5,349.1 539.5,352.3 543.5,356.1 547.5,359.0 551.5,359.8 555.5,361.4 559.5,364.1 563.5,366.9 567.5,370.2 571.5,373.1 575.5,375.3 579.5,377.2 583.5,380.5 587.5,383.8 591.5,385.6 595.5,386.1 599.5,387.3 603.5,389.3 607.5,391.1 611.5,390.9 615.5,391.9 619.5,392.7 623.5,392.1 627.5,390.8 631.5,389.8 635.5,388.0 639.5,386.1 643.5,383.5 647.5,382.3 651.5,381.5 655.5,378.3 659.5,374.1 663.5,369.7 667.5,367.1 671.5,363.1 675.5,359.2 679.5,356.2 683.5,352.8 687.5,350.6 691.5,349.1 695.5,346.6 699.5,345.1 703.5,343.6 707.5,342.2 711.5,342.3 715.5,343.8 719.5,347.8 723.5,351.4 727.5,356.2 731.5,360.2 735.5,363.8 739.5,366.4 743.5,368.4 747.5,370.2 751.5,372.8 755.5,375.8 759.5,377.9 763.5,380.0 767.5,382.2 771.5,383.4 775.5,381.7 779.5,381.3 783.5,378.0 787.5,374.4 791.5,371.5 795.5,370.3 799.5,369.1 803.5,370.3 807.5,370.6 811.5,371.9 815.5,373.5 819.5,375.4 823.5,378.3 827.5,380.2 831.5,382.6 835.5,383.3 839.5,385.7 843.5,389.4 847.5,393.5 851.5,396.9 855.5,400.1 859.5,400.4 863.5,401.4 867.5,400.4 871.5,399.4 875.5,399.2 879.5,398.8 883.5,398.7 887.5,400.2 891.5,402.3 895.5,405.5 899.5,408.1 903.5,410.2 907.5,413.8 911.5,418.1 915.5,422.9 919.5,426.9 923.5,431.7 927.5,436.3 931.5,441.3 935.5,444.6 939.5,448.8 943.5,451.9 947.5,455.9 951.5,459.0 955.5,462.9 959.5,465.4 963.5,466.6 967.5,465.4 971.5,463.0 975.5,462.4 979.5,461.4 983.5,460.8 987.5,458.3 991.5,457.9 995.5,458.0 999.5,458.5 1003.5,458.8 1007.5,459.1 1011.5,458.9 1015.5,460.2 1019.5,461.3 1023.5,464.2 1027.5,467.7 1031.5,468.5 1035.5,469.8 1039.5,471.8 1043.5,475.2 1047.5,475.9 1051.5,476.3 1055.5,475.9 1059.5,475.6 1063.5,477.4 1067.5,479.2 1071.5,478.9 1075.5,478.7 1079.5,477.7 1083.5,477.6 1087.5,478.0 1091.5,477.2 1095.5,476.4 1099.5,474.0 1103.5,472.8 1107.5,471.2 1111.5,470.9 1115.5,469.1 1119.5,466.7 1123.5,464.4 1127.5,463.8 1131.5,463.9 1135.5,464.9 1139.5,465.5 1143.5,466.6 1147.5,468.4 1151.5,470.3 1155.5,472.3 1159.5,474.0 1163.5,476.3 1167.5,479.1 1171.5,482.6 1175.5,485.1 1179.5,487.7 1183.5,490.6 1187.5,493.9 1191.5,494.3 1195.5,493.9 1199.5,494.7 1203.5,495.9 1207.5,496.0 1211.5,497.2 1215.5,497.8 1219.5,498.0 1223.5,497.0 1227.5,496.6 1231.5,496.2 1235.5,496.7 1239.5,497.8 1243.5,498.5 1247.5,501.1 1251.5,505.2 1255.5,508.4" fill="none" stroke="#ff0000" stroke-width="1" />
<polyline points="3.5,227.0 8.5,208.0 13.5,188.0 19.5,151.6 23.5,130.1 27.5,110.1 31.5,95.0 35.5,97.4 39.5,103.2 43.5,117.4 47.5,133.0 51.5,159.2 55.5,172.6 59.5,182.0 63.5,174.0 67.5,172.5 71.5,164.1 75.5,164.7 79.5,164.4 83.5,175.5 87.5,179.4 91.5,185.6 95.5,193.8 99.5,201.4 103.5,202.2 107.5,207.4 111.5,202.5 115.5,195.0 119.5,191.6 123.5,188.4 127.5,181.0 131.5,176.7 135.5,178.0 139.5,178.2 143.5,175.0 147.5,173.0 151.5,180.2 155.5,185.7 159.5,189.5 163.5,197.8 167.5,198.4 171.5,197.0 175.5,192.8 179.5,188.4 183.5,178.1 187.5,183.9 191.5,191.1 195.5,197.5 199.5,198.0 203.5,203.8 207.5,198.4 211.5,190.6 215.5,183.8 219.5,180.1 223.5,182.1 227.5,191.6 231.5,199.3 235.5,205.2 239.5,208.9 243.5,207.3 247.5,203.3 251.5,207.2 255.5,214.5 259.5,226.0 263.5,234.2 267.5,242.7 271.5,252.6 275.5,264.6 279.5,276.7 283.5,289.6 287.5,305.2 291.5,312.2 295.5,318.1 299.5,320.4 303.5,326.2 307.5,320.0 311.5,313.4 315.5,303.0 319.5,295.2 323.5,287.6 327.5,286.9 331.5,286.8 335.5,287.3 339.5,287.6 343.5,288.4 347.5,291.1 351.5,290.6 355.5,288.1 359.5,284.3 363.5,279.1 367.5,271.3 371.5,270.8 375.5,274.3 379.5,278.4 383.5,282.2 387.5,288.1 391.5,291.3 395.5,291.0 399.5,294.0 403.5,293.6 407.5,291.9 411.5,289.9 415.5,290.5 419.5,287.2 423.5,289.8 427.5,292.2 431.5,292.9 435.5,292.8 439.5,296.3 443.5,300.0 447.5,305.9 451.5,314.8 455.5,321.5 459.5,326.5 463.5,329.0 467.5,330.9 471.5,330.5 475.5,329.7 479.5,331.3 483.5,331.4 487.5,329.4 491.5,329.8 495.5,338.1 499.5,341.9 503.5,341.3 507.5,342.5 511.5,343.0 515.5,341.3 519.5,343.0 523.5,351.0 527.5,356.7 531.5,360.9 535.5,364.9 539.5,368.2 543.5,370.1 547.5,373.2 551.5,375.7 555.5,376.3 559.5,374.2 563.5,373.0 567.5,374.5 571.5,378.3 575.5,381.8 579.5,387.8 583.5,394.7 587.5,399.0 591.5,399.9 595.5,398.6 599.5,398.3 603.5,397.8 607.5,396.0 611.5,391.2 615.5,390.5 619.5,388.2 623.5,382.3 627.5,377.6 631.5,378.6 635.5,376.7 639.5,376.1 643.5,375.1 647.5,376.1 651.5,375.4 655.5,371.2 659.5,364.4 663.5,357.2 667.5,348.8 671.5,339.1 675.5,334.8 679.5,332.0 683.5,330.3 687.5,332.2 691.5,337.5 695.5,340.6 699.5,344.0 703.5,350.2 707.5,351.9 711.5,352.2 715.5,356.7 719.5,364.9 723.5,370.7 727.5,378.3 731.5,384.7 735.5,388.0 739.5,382.3 743.5,379.8 747.5,376.6 751.5,376.1 755.5,377.5 759.5,382.3 763.5,384.4 767.5,385.9 771.5,386.2 775.5,381.7 779.5,380.4 783.5,372.7 787.5,363.0 791.5,354.8 795.5,350.4 799.5,345.4 803.5,355.0 807.5,365.3 811.5,378.6 815.5,391.0 819.5,402.1 823.5,408.3 827.5,413.2 831.5,411.6 835.5,407.8 839.5,401.7 843.5,394.1 847.5,391.9 851.5,390.6 855.5,392.7 859.5,396.1 863.5,399.0 867.5,397.8 871.5,398.0 875.5,399.6 879.5,403.8 883.5,405.8 887.5,411.1 891.5,415.9 895.5,419.3 899.5,420.3 903.5,423.9 907.5,428.5 911.5,436.9 915.5,444.7 919.5,451.5 923.5,458.2 927.5,461.0 931.5,464.7 935.5,464.7 939.5,467.1 943.5,467.7 947.5,470.9 951.5,468.8 955.5,471.4 959.5,470.4 963.5,469.6 967.5,463.4 971.5,455.9 975.5,450.0 979.5,447.1 983.5,444.6 987.5,444.9 991.5,450.5 995.5,454.8 999.5,459.6 1003.5,465.5 1007.5,471.0 1011.5,474.1 1015.5,476.6 1019.5,477.4 1023.5,478.6 1027.5,479.9 1031.5,476.8 1035.5,474.0 1039.5,474.0 1043.5,475.6 1047.5,473.5 1051.5,476.7 1055.5,476.5 1059.5,476.0 1063.5,477.2 1067.5,483.3 1071.5,484.0 1075.5,485.5 1079.5,484.6 1083.5,480.3 1087.5,473.4 1091.5,469.2 1095.5,467.6 1099.5,465.1 1103.5,459.9 1107.5,457.8 1111.5,458.8 1115.5,455.5 1119.5,456.8 1123.5,459.9 1127.5,463.2 1131.5,466.0 1135.5,472.9 1139.5,476.9 1143.5,479.5 1147.5,482.0 1151.5,485.6 1155.5,485.6 1159.5,483.7 1163.5,485.1 1167.5,488.9 1171.5,489.8 1175.5,492.5 1179.5,498.3 1183.5,503.3 1187.5,507.5 1191.5,505.7 1195.5,501.6 1199.5,499.1 1203.5,496.7 1207.5,491.4 1211.5,493.7 1215.5,494.7 1219.5,494.3 1223.5,491.9 1227.5,491.3 1231.5,489.9 1235.5,495.3 1239.5,502.8 1243.5,511.7 1247.5,518.5 1251.5,526.8 1255.5,531.7" fill="none" stroke="#ffa500" stroke-width="1" />
<rect x="3" y="365" width="1576" height="2" fill="#ff0000" />
<rect x="2" y="363" width="6" height="6" fill="#ff0000" />
<rect x="4" y="365" width="2" height="2" fill="#ffffff" />
<rect x="1573" y="363" width="6" height="6" fill="#ff0000" />
<rect x="1575" y="365" width="2" height="2" fill="#ffffff" />
<rect x="3" y="406" width="1576" height="2" fill="#ff0000" />
<rect x="2" y="404" width="6" height="6" fill="#ff0000" />
<rect x="4" y="406" width="2" height="2" fill="#ffffff" />
<rect x="1573" y="404" width="6" height="6" fill="#ff0000" />
<rect x="1575" y="406" width="2" height="2" fill="#ffffff" />
<rect x="3" y="445" width="1576" height="2" fill="#ff0000" />
<rect x="2" y="443" width="6" height="6" fill="#ff0000" />
<rect x="4" y="445" width="2" height="2" fill="#ffffff" />
<rect x="1573" y="443" width="6" height="6" fill="#ff0000" />
<rect x="1575" y="445" width="2" height="2" fill="#ffffff" />
<rect x="3" y="491" width="1576" height="2" fill="#00ff00" />
<rect x="2" y="489" width="6" height="6" fill="#00ff00" />
<rect x="4" y="491" width="2" height="2" fill="#ffffff" />
<rect x="1573" y="489" width="6" height="6" fill="#00ff00" />
<rect x="1575" y="491" width="2" height="2" fill="#ffffff" />
<rect x="3" y="524" width="1576" height="2" fill="#0000ff" />
<rect x="2" y="522" width="6" height="6" fill="#0000ff" />
<rect x="4" y="524" width="2" height="2" fill="#ffffff" />
<rect x="1573" y="522" width="6" height="6" fill="#0000ff" />
<rect x="1575" y="524" width="2" height="2" fill="#ffffff" />
<rect x="3" y="535" width="1576" height="1" fill="#c0c0c0" />
<rect x="1581" y="360" width="40" height="11" fill="#ff0000" />
<text x="1585.5" y="369" font-family="Liberation Sans, sans-serif" text-rendering="geometricPrecision" font-size="9.6" fill="#ffffff" stroke="#ffffff" stroke-width="0.1" textLength="31.5" lengthAdjust="spacingAndGlyphs">1.32258</text>
<rect x="1581" y="401" width="40" height="11" fill="#ff0000" />
<text x="1585.5" y="410" font-family="Liberation Sans, sans-serif" text-rendering="geometricPrecision" font-size="9.6" fill="#ffffff" stroke="#ffffff" stroke-width="0.1" textLength="31.5" lengthAdjust="spacingAndGlyphs">1.30415</text>
<rect x="1581" y="440" width="40" height="11" fill="#ff0000" />
<text x="1585.5" y="449" font-family="Liberation Sans, sans-serif" text-rendering="geometricPrecision" font-size="9.6" fill="#ffffff" stroke="#ffffff" stroke-width="0.1" textLength="31.5" lengthAdjust="spacingAndGlyphs">1.28616</text>
<rect x="1581" y="486" width="40" height="11" fill="#00ff00" />
<text x="1585.5" y="495" font-family="Liberation Sans, sans-serif" text-rendering="geometricPrecision" font-size="9.6" fill="#ffffff" stroke="#ffffff" stroke-width="0.1" textLength="31.5" lengthAdjust="spacingAndGlyphs">1.26503</text>
<rect x="1581" y="519" width="40" height="11" fill="#0000ff" />
<text x="1585.5" y="528" font-family="Liberation Sans, sans-serif" text-rendering="geometricPrecision" font-size="9.6" fill="#ffffff" stroke="#ffffff" stroke-width="0.1" textLength="31.5" lengthAdjust="spacingAndGlyphs">1.25019</text>
<rect x="1581" y="530" width="40" height="11" fill="#000000" />
<text x="1585.5" y="539" font-family="Liberation Sans, sans-serif" text-rendering="geometricPrecision" font-size="9.6" fill="#ffffff" stroke="#ffffff" stroke-width="0.1" textLength="31.5" lengthAdjust="spacingAndGlyphs">1.24524</text>
<path d="M6 32 L13 32 L9.5 36 Z" fill="#000" shape-rendering="auto"/>
<text x="18.1" y="37" font-family="Liberation Sans, sans-serif" text-rendering="geometricPrecision" font-size="9.6" fill="#000" stroke="#000" stroke-width="0.18" textLength="65.5" lengthAdjust="spacingAndGlyphs">USDCAD,Daily</text>
<text x="90.7" y="37" font-family="Liberation Sans, sans-serif" text-rendering="geometricPrecision" font-size="9.6" fill="#000" stroke="#000" stroke-width="0.18" textLength="140" lengthAdjust="spacingAndGlyphs">1.24494 1.24605 1.24350 1.24524</text>
<line x1="3" y1="584.5" x2="1578" y2="584.5" stroke="#c0c0c0" stroke-width="1" stroke-dasharray="3,3"/>
<line x1="3" y1="621.5" x2="1578" y2="621.5" stroke="#c0c0c0" stroke-width="1" stroke-dasharray="3,3"/>
<polyline points="3.5,575.1 7.5,572.4 11.5,568.3 15.5,564.7 19.5,569.5 23.5,576.5 27.5,575.4 31.5,573.5 35.5,577.8 39.5,586.2 43.5,599.2 47.5,598.2 51.5,603.1 55.5,596.0 59.5,597.8 63.5,594.8 67.5,599.1 71.5,598.3 75.5,597.6 79.5,598.8 83.5,604.8 87.5,602.9 91.5,603.9 95.5,604.8 99.5,605.5 103.5,605.6 107.5,607.8 111.5,598.3 115.5,596.9 119.5,602.1 123.5,602.5 127.5,600.2 131.5,594.8 135.5,599.4 139.5,603.3 143.5,600.2 147.5,599.4 151.5,603.0 155.5,605.4 159.5,607.6 163.5,608.9 167.5,599.3 171.5,600.8 175.5,600.3 179.5,602.6 183.5,597.6 187.5,605.8 191.5,608.3 195.5,606.8 199.5,602.5 203.5,603.2 207.5,599.2 211.5,599.7 215.5,599.3 219.5,598.5 223.5,606.5 227.5,610.4 231.5,608.5 235.5,605.7 239.5,601.9 243.5,603.3 247.5,604.9 251.5,612.1 255.5,613.5 259.5,614.6 263.5,611.1 267.5,612.9 271.5,619.8 275.5,622.3 279.5,623.1 283.5,620.7 287.5,623.8 291.5,622.2 295.5,624.0 299.5,619.6 303.5,621.3 307.5,609.6 311.5,607.8 315.5,606.1 319.5,606.3 323.5,609.1 327.5,608.1 331.5,606.9 335.5,605.9 339.5,605.6 343.5,610.0 347.5,611.7 351.5,604.5 355.5,600.3 359.5,598.3 363.5,601.1 367.5,598.8 371.5,604.4 375.5,606.5 379.5,604.9 383.5,607.1 387.5,608.1 391.5,609.3 395.5,604.8 399.5,608.8 403.5,604.7 407.5,603.6 411.5,604.3 415.5,605.3 419.5,602.0 423.5,609.2 427.5,607.5 431.5,604.7 435.5,603.8 439.5,608.2 443.5,614.6 447.5,616.6 451.5,619.0 455.5,612.4 459.5,613.2 463.5,615.3 467.5,616.6 471.5,615.2 475.5,607.2 479.5,612.3 483.5,611.9 487.5,608.9 491.5,612.2 495.5,618.9 499.5,615.2 503.5,605.8 507.5,606.8 511.5,608.6 515.5,612.4 519.5,615.1 523.5,617.1 527.5,613.4 531.5,612.7 535.5,616.0 539.5,617.7 543.5,618.0 547.5,616.9 551.5,614.1 555.5,614.9 559.5,610.6 563.5,613.0 567.5,616.8 571.5,618.7 575.5,619.1 579.5,620.5 583.5,623.7 587.5,622.3 591.5,615.4 595.5,609.4 599.5,613.1 603.5,616.5 607.5,611.6 611.5,600.7 615.5,604.4 619.5,605.3 623.5,601.9 627.5,600.9 631.5,602.6 635.5,600.3 639.5,604.3 643.5,599.9 647.5,603.3 651.5,601.3 655.5,592.7 659.5,591.5 663.5,588.0 667.5,588.7 671.5,585.7 675.5,587.8 679.5,590.0 683.5,587.8 687.5,597.9 691.5,600.6 695.5,597.9 699.5,600.2 703.5,603.3 707.5,602.1 711.5,601.6 715.5,608.0 719.5,615.8 723.5,613.3 727.5,615.2 731.5,611.6 735.5,611.0 739.5,601.3 743.5,605.4 747.5,606.6 751.5,608.9 755.5,611.7 759.5,609.5 763.5,608.3 767.5,608.3 771.5,608.3 775.5,600.2 779.5,605.6 783.5,592.7 787.5,590.0 791.5,593.4 795.5,594.7 799.5,598.8 803.5,611.0 807.5,608.7 811.5,614.2 815.5,614.0 819.5,614.6 823.5,617.7 827.5,612.5 831.5,608.3 835.5,604.4 839.5,601.3 843.5,603.4 847.5,607.8 851.5,605.3 855.5,607.3 859.5,606.1 863.5,607.4 867.5,605.0 871.5,604.8 875.5,609.8 879.5,612.8 883.5,609.5 887.5,613.0 891.5,611.5 895.5,613.7 899.5,612.4 903.5,614.5 907.5,619.0 911.5,622.9 915.5,623.8 919.5,619.4 923.5,620.9 927.5,618.5 931.5,623.5 935.5,616.0 939.5,617.2 943.5,615.5 947.5,618.0 951.5,614.6 955.5,617.3 959.5,610.5 963.5,609.6 967.5,601.9 971.5,597.3 975.5,603.8 979.5,604.2 983.5,604.3 987.5,602.4 991.5,607.6 995.5,611.3 999.5,612.3 1003.5,614.1 1007.5,610.9 1011.5,611.5 1015.5,614.3 1019.5,611.6 1023.5,614.1 1027.5,610.9 1031.5,601.5 1035.5,605.3 1039.5,608.7 1043.5,613.5 1047.5,603.5 1051.5,605.8 1055.5,603.1 1059.5,605.6 1063.5,612.5 1067.5,612.7 1071.5,604.7 1075.5,603.6 1079.5,602.1 1083.5,604.3 1087.5,599.8 1091.5,597.5 1095.5,601.2 1099.5,598.2 1103.5,595.9 1107.5,597.0 1111.5,600.7 1115.5,596.5 1119.5,602.1 1123.5,603.0 1127.5,604.2 1131.5,606.7 1135.5,609.9 1139.5,609.6 1143.5,607.0 1147.5,608.3 1151.5,612.9 1155.5,607.9 1159.5,603.2 1163.5,607.7 1167.5,612.9 1171.5,611.6 1175.5,611.6 1179.5,613.3 1183.5,615.9 1187.5,619.3 1191.5,603.8 1195.5,599.8 1199.5,604.3 1203.5,606.9 1207.5,605.7 1211.5,607.4 1215.5,600.7 1219.5,602.8 1223.5,602.1 1227.5,604.3 1231.5,604.8 1235.5,610.7 1239.5,615.5 1243.5,617.0 1247.5,614.5 1251.5,617.0 1255.5,616.6" fill="none" stroke="#1e90ff" stroke-width="1" />
<text x="7.2" y="567" font-family="Liberation Sans, sans-serif" text-rendering="geometricPrecision" font-size="9.6" fill="#000" stroke="#000" stroke-width="0.18" textLength="67.8" lengthAdjust="spacingAndGlyphs">RSI(14) 33.8204</text>
<rect x="1580" y="555" width="2" height="1" fill="#000" />
<rect x="1580" y="649" width="2" height="1" fill="#000" />
<text x="1583.5" y="564" font-family="Liberation Sans, sans-serif" text-rendering="geometricPrecision" font-size="9.6" fill="#000" stroke="#000" stroke-width="0.18" textLength="15" lengthAdjust="spacingAndGlyphs">100</text>
<text x="1582.5" y="588" font-family="Liberation Sans, sans-serif" text-rendering="geometricPrecision" font-size="9.6" fill="#000" stroke="#000" stroke-width="0.18" textLength="10" lengthAdjust="spacingAndGlyphs">70</text>
<text x="1582.5" y="625" font-family="Liberation Sans, sans-serif" text-rendering="geometricPrecision" font-size="9.6" fill="#000" stroke="#000" stroke-width="0.18" textLength="10" lengthAdjust="spacingAndGlyphs">30</text>
<text x="1582.8" y="646.5" font-family="Liberation Sans, sans-serif" text-rendering="geometricPrecision" font-size="9.6" fill="#000" stroke="#000" stroke-width="0.18" textLength="5" lengthAdjust="spacingAndGlyphs">0</text>
<rect x="3" y="684" width="1" height="31" fill="#c0c0c0" />
<rect x="7" y="682" width="1" height="33" fill="#c0c0c0" />
<rect x="11" y="678" width="1" height="37" fill="#c0c0c0" />
<rect x="15" y="670" width="1" height="45" fill="#c0c0c0" />
<rect x="19" y="665" width="1" height="50" fill="#c0c0c0" />
<rect x="23" y="664" width="1" height="51" fill="#c0c0c0" />
<rect x="27" y="662" width="1" height="53" fill="#c0c0c0" />
<rect x="31" y="660" width="1" height="55" fill="#c0c0c0" />
<rect x="35" y="659" width="1" height="56" fill="#c0c0c0" />
<rect x="39" y="662" width="1" height="53" fill="#c0c0c0" />
<rect x="43" y="669" width="1" height="46" fill="#c0c0c0" />
<rect x="47" y="674" width="1" height="41" fill="#c0c0c0" />
<rect x="51" y="681" width="1" height="34" fill="#c0c0c0" />
<rect x="55" y="683" width="1" height="32" fill="#c0c0c0" />
<rect x="59" y="686" width="1" height="29" fill="#c0c0c0" />
<rect x="63" y="687" width="1" height="28" fill="#c0c0c0" />
<rect x="67" y="689" width="1" height="26" fill="#c0c0c0" />
<rect x="71" y="692" width="1" height="23" fill="#c0c0c0" />
<rect x="75" y="693" width="1" height="22" fill="#c0c0c0" />
<rect x="79" y="695" width="1" height="20" fill="#c0c0c0" />
<rect x="83" y="699" width="1" height="16" fill="#c0c0c0" />
<rect x="87" y="702" width="1" height="13" fill="#c0c0c0" />
<rect x="91" y="704" width="1" height="11" fill="#c0c0c0" />
<rect x="95" y="707" width="1" height="8" fill="#c0c0c0" />
<rect x="99" y="709" width="1" height="6" fill="#c0c0c0" />
<rect x="103" y="711" width="1" height="4" fill="#c0c0c0" />
<rect x="107" y="713" width="1" height="2" fill="#c0c0c0" />
<rect x="111" y="712" width="1" height="3" fill="#c0c0c0" />
<rect x="115" y="710" width="1" height="5" fill="#c0c0c0" />
<rect x="119" y="711" width="1" height="4" fill="#c0c0c0" />
<rect x="123" y="711" width="1" height="4" fill="#c0c0c0" />
<rect x="127" y="711" width="1" height="4" fill="#c0c0c0" />
<rect x="131" y="709" width="1" height="6" fill="#c0c0c0" />
<rect x="135" y="709" width="1" height="6" fill="#c0c0c0" />
<rect x="139" y="710" width="1" height="5" fill="#c0c0c0" />
<rect x="143" y="710" width="1" height="5" fill="#c0c0c0" />
<rect x="147" y="709" width="1" height="6" fill="#c0c0c0" />
<rect x="151" y="710" width="1" height="5" fill="#c0c0c0" />
<rect x="155" y="712" width="1" height="3" fill="#c0c0c0" />
<rect x="159" y="714" width="1" height="1" fill="#c0c0c0" />
<rect x="163" y="714" width="1" height="2" fill="#c0c0c0" />
<rect x="167" y="714" width="1" height="1" fill="#c0c0c0" />
<rect x="171" y="714" width="1" height="1" fill="#c0c0c0" />
<rect x="175" y="713" width="1" height="2" fill="#c0c0c0" />
<rect x="179" y="713" width="1" height="2" fill="#c0c0c0" />
<rect x="183" y="712" width="1" height="3" fill="#c0c0c0" />
<rect x="187" y="713" width="1" height="2" fill="#c0c0c0" />
<rect x="191" y="714" width="1" height="2" fill="#c0c0c0" />
<rect x="195" y="714" width="1" height="3" fill="#c0c0c0" />
<rect x="199" y="714" width="1" height="2" fill="#c0c0c0" />
<rect x="203" y="714" width="1" height="2" fill="#c0c0c0" />
<rect x="207" y="714" width="1" height="1" fill="#c0c0c0" />
<rect x="211" y="714" width="1" height="1" fill="#c0c0c0" />
<rect x="215" y="713" width="1" height="2" fill="#c0c0c0" />
<rect x="219" y="712" width="1" height="3" fill="#c0c0c0" />
<rect x="223" y="714" width="1" height="1" fill="#c0c0c0" />
<rect x="227" y="714" width="1" height="2" fill="#c0c0c0" />
<rect x="231" y="714" width="1" height="3" fill="#c0c0c0" />
<rect x="235" y="714" width="1" height="4" fill="#c0c0c0" />
<rect x="239" y="714" width="1" height="3" fill="#c0c0c0" />
<rect x="243" y="714" width="1" height="3" fill="#c0c0c0" />
<rect x="247" y="714" width="1" height="3" fill="#c0c0c0" />
<rect x="251" y="714" width="1" height="5" fill="#c0c0c0" />
<rect x="255" y="714" width="1" height="7" fill="#c0c0c0" />
<rect x="259" y="714" width="1" height="9" fill="#c0c0c0" />
<rect x="263" y="714" width="1" height="10" fill="#c0c0c0" />
<rect x="267" y="714" width="1" height="11" fill="#c0c0c0" />
<rect x="271" y="714" width="1" height="14" fill="#c0c0c0" />
<rect x="275" y="714" width="1" height="18" fill="#c0c0c0" />
<rect x="279" y="714" width="1" height="21" fill="#c0c0c0" />
<rect x="283" y="714" width="1" height="23" fill="#c0c0c0" />
<rect x="287" y="714" width="1" height="25" fill="#c0c0c0" />
<rect x="291" y="714" width="1" height="27" fill="#c0c0c0" />
<rect x="295" y="714" width="1" height="28" fill="#c0c0c0" />
<rect x="299" y="714" width="1" height="28" fill="#c0c0c0" />
<rect x="303" y="714" width="1" height="29" fill="#c0c0c0" />
<rect x="307" y="714" width="1" height="26" fill="#c0c0c0" />
<rect x="311" y="714" width="1" height="24" fill="#c0c0c0" />
<rect x="315" y="714" width="1" height="21" fill="#c0c0c0" />
<rect x="319" y="714" width="1" height="19" fill="#c0c0c0" />
<rect x="323" y="714" width="1" height="17" fill="#c0c0c0" />
<rect x="327" y="714" width="1" height="16" fill="#c0c0c0" />
<rect x="331" y="714" width="1" height="14" fill="#c0c0c0" />
<rect x="335" y="714" width="1" height="13" fill="#c0c0c0" />
<rect x="339" y="714" width="1" height="11" fill="#c0c0c0" />
<rect x="343" y="714" width="1" height="11" fill="#c0c0c0" />
<rect x="347" y="714" width="1" height="11" fill="#c0c0c0" />
<rect x="351" y="714" width="1" height="10" fill="#c0c0c0" />
<rect x="355" y="714" width="1" height="8" fill="#c0c0c0" />
<rect x="359" y="714" width="1" height="6" fill="#c0c0c0" />
<rect x="363" y="714" width="1" height="4" fill="#c0c0c0" />
<rect x="367" y="714" width="1" height="3" fill="#c0c0c0" />
<rect x="371" y="714" width="1" height="3" fill="#c0c0c0" />
<rect x="375" y="714" width="1" height="3" fill="#c0c0c0" />
<rect x="379" y="714" width="1" height="3" fill="#c0c0c0" />
<rect x="383" y="714" width="1" height="4" fill="#c0c0c0" />
<rect x="387" y="714" width="1" height="4" fill="#c0c0c0" />
<rect x="391" y="714" width="1" height="5" fill="#c0c0c0" />
<rect x="395" y="714" width="1" height="4" fill="#c0c0c0" />
<rect x="399" y="714" width="1" height="5" fill="#c0c0c0" />
<rect x="403" y="714" width="1" height="4" fill="#c0c0c0" />
<rect x="407" y="714" width="1" height="4" fill="#c0c0c0" />
<rect x="411" y="714" width="1" height="4" fill="#c0c0c0" />
<rect x="415" y="714" width="1" height="3" fill="#c0c0c0" />
<rect x="419" y="714" width="1" height="3" fill="#c0c0c0" />
<rect x="423" y="714" width="1" height="3" fill="#c0c0c0" />
<rect x="427" y="714" width="1" height="4" fill="#c0c0c0" />
<rect x="431" y="714" width="1" height="4" fill="#c0c0c0" />
<rect x="435" y="714" width="1" height="3" fill="#c0c0c0" />
<rect x="439" y="714" width="1" height="4" fill="#c0c0c0" />
<rect x="443" y="714" width="1" height="5" fill="#c0c0c0" />
<rect x="447" y="714" width="1" height="7" fill="#c0c0c0" />
<rect x="451" y="714" width="1" height="9" fill="#c0c0c0" />
<rect x="455" y="714" width="1" height="9" fill="#c0c0c0" />
<rect x="459" y="714" width="1" height="9" fill="#c0c0c0" />
<rect x="463" y="714" width="1" height="10" fill="#c0c0c0" />
<rect x="467" y="714" width="1" height="11" fill="#c0c0c0" />
<rect x="471" y="714" width="1" height="11" fill="#c0c0c0" />
<rect x="475" y="714" width="1" height="10" fill="#c0c0c0" />
<rect x="479" y="714" width="1" height="10" fill="#c0c0c0" />
<rect x="483" y="714" width="1" height="10" fill="#c0c0c0" />
<rect x="487" y="714" width="1" height="10" fill="#c0c0c0" />
<rect x="491" y="714" width="1" height="10" fill="#c0c0c0" />
<rect x="495" y="714" width="1" height="11" fill="#c0c0c0" />
<rect x="499" y="714" width="1" height="12" fill="#c0c0c0" />
<rect x="503" y="714" width="1" height="11" fill="#c0c0c0" />
<rect x="507" y="714" width="1" height="10" fill="#c0c0c0" />
<rect x="511" y="714" width="1" height="9" fill="#c0c0c0" />
<rect x="515" y="714" width="1" height="10" fill="#c0c0c0" />
<rect x="519" y="714" width="1" height="11" fill="#c0c0c0" />
<rect x="523" y="714" width="1" height="12" fill="#c0c0c0" />
<rect x="527" y="714" width="1" height="12" fill="#c0c0c0" />
<rect x="531" y="714" width="1" height="12" fill="#c0c0c0" />
<rect x="535" y="714" width="1" height="12" fill="#c0c0c0" />
<rect x="539" y="714" width="1" height="13" fill="#c0c0c0" />
<rect x="543" y="714" width="1" height="14" fill="#c0c0c0" />
<rect x="547" y="714" width="1" height="14" fill="#c0c0c0" />
<rect x="551" y="714" width="1" height="13" fill="#c0c0c0" />
<rect x="555" y="714" width="1" height="13" fill="#c0c0c0" />
<rect x="559" y="714" width="1" height="12" fill="#c0c0c0" />
<rect x="563" y="714" width="1" height="12" fill="#c0c0c0" />
<rect x="567" y="714" width="1" height="12" fill="#c0c0c0" />
<rect x="571" y="714" width="1" height="13" fill="#c0c0c0" />
<rect x="575" y="714" width="1" height="13" fill="#c0c0c0" />
<rect x="579" y="714" width="1" height="13" fill="#c0c0c0" />
<rect x="583" y="714" width="1" height="14" fill="#c0c0c0" />
<rect x="587" y="714" width="1" height="15" fill="#c0c0c0" />
<rect x="591" y="714" width="1" height="14" fill="#c0c0c0" />
<rect x="595" y="714" width="1" height="13" fill="#c0c0c0" />
<rect x="599" y="714" width="1" height="12" fill="#c0c0c0" />
<rect x="603" y="714" width="1" height="13" fill="#c0c0c0" />
<rect x="607" y="714" width="1" height="12" fill="#c0c0c0" />
<rect x="611" y="714" width="1" height="10" fill="#c0c0c0" />
<rect x="615" y="714" width="1" height="9" fill="#c0c0c0" />
<rect x="619" y="714" width="1" height="8" fill="#c0c0c0" />
<rect x="623" y="714" width="1" height="6" fill="#c0c0c0" />
<rect x="627" y="714" width="1" height="5" fill="#c0c0c0" />
<rect x="631" y="714" width="1" height="4" fill="#c0c0c0" />
<rect x="635" y="714" width="1" height="3" fill="#c0c0c0" />
<rect x="639" y="714" width="1" height="3" fill="#c0c0c0" />
<rect x="643" y="714" width="1" height="2" fill="#c0c0c0" />
<rect x="647" y="714" width="1" height="2" fill="#c0c0c0" />
<rect x="651" y="714" width="1" height="1" fill="#c0c0c0" />
<rect x="655" y="713" width="1" height="2" fill="#c0c0c0" />
<rect x="659" y="712" width="1" height="3" fill="#c0c0c0" />
<rect x="663" y="709" width="1" height="6" fill="#c0c0c0" />
<rect x="667" y="708" width="1" height="7" fill="#c0c0c0" />
<rect x="671" y="706" width="1" height="9" fill="#c0c0c0" />
<rect x="675" y="705" width="1" height="10" fill="#c0c0c0" />
<rect x="679" y="704" width="1" height="11" fill="#c0c0c0" />
<rect x="683" y="704" width="1" height="11" fill="#c0c0c0" />
<rect x="687" y="705" width="1" height="10" fill="#c0c0c0" />
<rect x="691" y="706" width="1" height="9" fill="#c0c0c0" />
<rect x="695" y="706" width="1" height="9" fill="#c0c0c0" />
<rect x="699" y="707" width="1" height="8" fill="#c0c0c0" />
<rect x="703" y="708" width="1" height="7" fill="#c0c0c0" />
<rect x="707" y="709" width="1" height="6" fill="#c0c0c0" />
<rect x="711" y="710" width="1" height="5" fill="#c0c0c0" />
<rect x="715" y="711" width="1" height="4" fill="#c0c0c0" />
<rect x="719" y="714" width="1" height="1" fill="#c0c0c0" />
<rect x="723" y="714" width="1" height="2" fill="#c0c0c0" />
<rect x="727" y="714" width="1" height="4" fill="#c0c0c0" />
<rect x="731" y="714" width="1" height="5" fill="#c0c0c0" />
<rect x="735" y="714" width="1" height="5" fill="#c0c0c0" />
<rect x="739" y="714" width="1" height="4" fill="#c0c0c0" />
<rect x="743" y="714" width="1" height="4" fill="#c0c0c0" />
<rect x="747" y="714" width="1" height="4" fill="#c0c0c0" />
<rect x="751" y="714" width="1" height="5" fill="#c0c0c0" />
<rect x="755" y="714" width="1" height="5" fill="#c0c0c0" />
<rect x="759" y="714" width="1" height="6" fill="#c0c0c0" />
<rect x="763" y="714" width="1" height="6" fill="#c0c0c0" />
<rect x="767" y="714" width="1" height="6" fill="#c0c0c0" />
<rect x="771" y="714" width="1" height="5" fill="#c0c0c0" />
<rect x="775" y="714" width="1" height="4" fill="#c0c0c0" />
<rect x="779" y="714" width="1" height="4" fill="#c0c0c0" />
<rect x="783" y="714" width="1" height="2" fill="#c0c0c0" />
<rect x="787" y="713" width="1" height="2" fill="#c0c0c0" />
<rect x="791" y="711" width="1" height="4" fill="#c0c0c0" />
<rect x="795" y="710" width="1" height="5" fill="#c0c0c0" />
<rect x="799" y="710" width="1" height="5" fill="#c0c0c0" />
<rect x="803" y="713" width="1" height="2" fill="#c0c0c0" />
<rect x="807" y="714" width="1" height="1" fill="#c0c0c0" />
<rect x="811" y="714" width="1" height="3" fill="#c0c0c0" />
<rect x="815" y="714" width="1" height="5" fill="#c0c0c0" />
<rect x="819" y="714" width="1" height="7" fill="#c0c0c0" />
<rect x="823" y="714" width="1" height="9" fill="#c0c0c0" />
<rect x="827" y="714" width="1" height="9" fill="#c0c0c0" />
<rect x="831" y="714" width="1" height="9" fill="#c0c0c0" />
<rect x="835" y="714" width="1" height="8" fill="#c0c0c0" />
<rect x="839" y="714" width="1" height="7" fill="#c0c0c0" />
<rect x="843" y="714" width="1" height="6" fill="#c0c0c0" />
<rect x="847" y="714" width="1" height="6" fill="#c0c0c0" />
<rect x="851" y="714" width="1" height="6" fill="#c0c0c0" />
<rect x="855" y="714" width="1" height="6" fill="#c0c0c0" />
<rect x="859" y="714" width="1" height="5" fill="#c0c0c0" />
<rect x="863" y="714" width="1" height="5" fill="#c0c0c0" />
<rect x="867" y="714" width="1" height="5" fill="#c0c0c0" />
<rect x="871" y="714" width="1" height="5" fill="#c0c0c0" />
<rect x="875" y="714" width="1" height="5" fill="#c0c0c0" />
<rect x="879" y="714" width="1" height="6" fill="#c0c0c0" />
<rect x="883" y="714" width="1" height="6" fill="#c0c0c0" />
<rect x="887" y="714" width="1" height="7" fill="#c0c0c0" />
<rect x="891" y="714" width="1" height="8" fill="#c0c0c0" />
<rect x="895" y="714" width="1" height="8" fill="#c0c0c0" />
<rect x="899" y="714" width="1" height="8" fill="#c0c0c0" />
<rect x="903" y="714" width="1" height="9" fill="#c0c0c0" />
<rect x="907" y="714" width="1" height="10" fill="#c0c0c0" />
<rect x="911" y="714" width="1" height="12" fill="#c0c0c0" />
<rect x="915" y="714" width="1" height="14" fill="#c0c0c0" />
<rect x="919" y="714" width="1" height="15" fill="#c0c0c0" />
<rect x="923" y="714" width="1" height="15" fill="#c0c0c0" />
<rect x="927" y="714" width="1" height="15" fill="#c0c0c0" />
<rect x="931" y="714" width="1" height="17" fill="#c0c0c0" />
<rect x="935" y="714" width="1" height="17" fill="#c0c0c0" />
<rect x="939" y="714" width="1" height="17" fill="#c0c0c0" />
<rect x="943" y="714" width="1" height="16" fill="#c0c0c0" />
<rect x="947" y="714" width="1" height="16" fill="#c0c0c0" />
<rect x="951" y="714" width="1" height="16" fill="#c0c0c0" />
<rect x="955" y="714" width="1" height="16" fill="#c0c0c0" />
<rect x="959" y="714" width="1" height="15" fill="#c0c0c0" />
<rect x="963" y="714" width="1" height="13" fill="#c0c0c0" />
<rect x="967" y="714" width="1" height="11" fill="#c0c0c0" />
<rect x="971" y="714" width="1" height="8" fill="#c0c0c0" />
<rect x="975" y="714" width="1" height="7" fill="#c0c0c0" />
<rect x="979" y="714" width="1" height="6" fill="#c0c0c0" />
<rect x="983" y="714" width="1" height="6" fill="#c0c0c0" />
<rect x="987" y="714" width="1" height="5" fill="#c0c0c0" />
<rect x="991" y="714" width="1" height="5" fill="#c0c0c0" />
<rect x="995" y="714" width="1" height="6" fill="#c0c0c0" />
<rect x="999" y="714" width="1" height="6" fill="#c0c0c0" />
<rect x="1003" y="714" width="1" height="7" fill="#c0c0c0" />
<rect x="1007" y="714" width="1" height="8" fill="#c0c0c0" />
<rect x="1011" y="714" width="1" height="8" fill="#c0c0c0" />
<rect x="1015" y="714" width="1" height="8" fill="#c0c0c0" />
<rect x="1019" y="714" width="1" height="8" fill="#c0c0c0" />
<rect x="1023" y="714" width="1" height="9" fill="#c0c0c0" />
<rect x="1027" y="714" width="1" height="9" fill="#c0c0c0" />
<rect x="1031" y="714" width="1" height="7" fill="#c0c0c0" />
<rect x="1035" y="714" width="1" height="6" fill="#c0c0c0" />
<rect x="1039" y="714" width="1" height="6" fill="#c0c0c0" />
<rect x="1043" y="714" width="1" height="7" fill="#c0c0c0" />
<rect x="1047" y="714" width="1" height="6" fill="#c0c0c0" />
<rect x="1051" y="714" width="1" height="6" fill="#c0c0c0" />
<rect x="1055" y="714" width="1" height="5" fill="#c0c0c0" />
<rect x="1059" y="714" width="1" height="5" fill="#c0c0c0" />
<rect x="1063" y="714" width="1" height="6" fill="#c0c0c0" />
<rect x="1067" y="714" width="1" height="7" fill="#c0c0c0" />
<rect x="1071" y="714" width="1" height="7" fill="#c0c0c0" />
<rect x="1075" y="714" width="1" height="6" fill="#c0c0c0" />
<rect x="1079" y="714" width="1" height="5" fill="#c0c0c0" />
<rect x="1083" y="714" width="1" height="4" fill="#c0c0c0" />
<rect x="1087" y="714" width="1" height="3" fill="#c0c0c0" />
<rect x="1091" y="714" width="1" height="2" fill="#c0c0c0" />
<rect x="1095" y="714" width="1" height="1" fill="#c0c0c0" />
<rect x="1099" y="714" width="1" height="1" fill="#c0c0c0" />
<rect x="1103" y="713" width="1" height="2" fill="#c0c0c0" />
<rect x="1107" y="712" width="1" height="3" fill="#c0c0c0" />
<rect x="1111" y="712" width="1" height="3" fill="#c0c0c0" />
<rect x="1115" y="711" width="1" height="4" fill="#c0c0c0" />
<rect x="1119" y="712" width="1" height="3" fill="#c0c0c0" />
<rect x="1123" y="712" width="1" height="3" fill="#c0c0c0" />
<rect x="1127" y="713" width="1" height="2" fill="#c0c0c0" />
<rect x="1131" y="714" width="1" height="1" fill="#c0c0c0" />
<rect x="1135" y="714" width="1" height="1" fill="#c0c0c0" />
<rect x="1139" y="714" width="1" height="2" fill="#c0c0c0" />
<rect x="1143" y="714" width="1" height="2" fill="#c0c0c0" />
<rect x="1147" y="714" width="1" height="3" fill="#c0c0c0" />
<rect x="1151" y="714" width="1" height="4" fill="#c0c0c0" />
<rect x="1155" y="714" width="1" height="4" fill="#c0c0c0" />
<rect x="1159" y="714" width="1" height="4" fill="#c0c0c0" />
<rect x="1163" y="714" width="1" height="4" fill="#c0c0c0" />
<rect x="1167" y="714" width="1" height="5" fill="#c0c0c0" />
<rect x="1171" y="714" width="1" height="6" fill="#c0c0c0" />
<rect x="1175" y="714" width="1" height="6" fill="#c0c0c0" />
<rect x="1179" y="714" width="1" height="7" fill="#c0c0c0" />
<rect x="1183" y="714" width="1" height="8" fill="#c0c0c0" />
<rect x="1187" y="714" width="1" height="9" fill="#c0c0c0" />
<rect x="1191" y="714" width="1" height="8" fill="#c0c0c0" />
<rect x="1195" y="714" width="1" height="6" fill="#c0c0c0" />
<rect x="1199" y="714" width="1" height="6" fill="#c0c0c0" />
<rect x="1203" y="714" width="1" height="6" fill="#c0c0c0" />
<rect x="1207" y="714" width="1" height="5" fill="#c0c0c0" />
<rect x="1211" y="714" width="1" height="5" fill="#c0c0c0" />
<rect x="1215" y="714" width="1" height="4" fill="#c0c0c0" />
<rect x="1219" y="714" width="1" height="4" fill="#c0c0c0" />
<rect x="1223" y="714" width="1" height="3" fill="#c0c0c0" />
<rect x="1227" y="714" width="1" height="3" fill="#c0c0c0" />
<rect x="1231" y="714" width="1" height="3" fill="#c0c0c0" />
<rect x="1235" y="714" width="1" height="4" fill="#c0c0c0" />
<rect x="1239" y="714" width="1" height="5" fill="#c0c0c0" />
<rect x="1243" y="714" width="1" height="7" fill="#c0c0c0" />
<rect x="1247" y="714" width="1" height="8" fill="#c0c0c0" />
<rect x="1251" y="714" width="1" height="9" fill="#c0c0c0" />
<rect x="1255" y="714" width="1" height="10" fill="#c0c0c0" />
<polyline points="3.5,698.5 7.5,695.8 11.5,692.8 15.5,689.1 19.5,685.1 23.5,681.1 27.5,677.2 31.5,673.1 35.5,669.3 39.5,666.8 43.5,665.4 47.5,664.9 51.5,666.1 55.5,668.1 59.5,670.5 63.5,673.2 67.5,676.6 71.5,680.1 75.5,683.6 79.5,686.5 83.5,689.3 87.5,691.6 91.5,694.0 95.5,696.3 99.5,698.8 103.5,701.1 107.5,703.5 111.5,705.6 115.5,707.2 119.5,708.5 123.5,709.6 127.5,710.4 131.5,710.6 135.5,710.6 139.5,710.5 143.5,710.2 147.5,710.0 151.5,710.0 155.5,710.1 159.5,710.4 163.5,710.9 167.5,711.5 171.5,712.1 175.5,712.5 179.5,712.9 183.5,713.2 187.5,713.5 191.5,713.9 195.5,714.3 199.5,714.3 203.5,714.5 207.5,714.6 211.5,714.7 215.5,714.6 219.5,714.7 223.5,714.7 227.5,714.7 231.5,714.8 235.5,715.0 239.5,715.0 243.5,715.3 247.5,715.6 251.5,716.3 255.5,717.3 259.5,718.4 263.5,719.3 267.5,720.2 271.5,721.4 275.5,723.0 279.5,725.1 283.5,727.3 287.5,729.5 291.5,731.6 295.5,733.7 299.5,735.7 303.5,737.7 307.5,739.0 311.5,739.6 315.5,739.6 319.5,739.2 323.5,738.3 327.5,737.1 331.5,735.6 335.5,733.9 339.5,732.0 343.5,730.3 347.5,728.9 351.5,727.7 355.5,726.5 359.5,725.2 363.5,723.9 367.5,722.6 371.5,721.5 375.5,720.6 379.5,719.7 383.5,718.8 387.5,718.2 391.5,717.8 395.5,717.7 399.5,717.7 403.5,717.9 407.5,718.0 411.5,718.0 415.5,718.0 419.5,718.0 423.5,717.9 427.5,717.8 431.5,717.7 435.5,717.5 439.5,717.5 443.5,717.6 447.5,717.9 451.5,718.5 455.5,719.2 459.5,719.9 463.5,720.6 467.5,721.4 471.5,722.3 475.5,723.0 479.5,723.6 483.5,724.0 487.5,724.1 491.5,724.1 495.5,724.3 499.5,724.5 503.5,724.5 507.5,724.3 511.5,724.3 515.5,724.2 519.5,724.3 523.5,724.5 527.5,724.7 531.5,724.8 535.5,724.9 539.5,725.2 543.5,725.6 547.5,726.1 551.5,726.5 555.5,726.8 559.5,726.8 563.5,726.8 567.5,726.8 571.5,726.8 575.5,726.8 579.5,726.8 583.5,726.8 587.5,727.0 591.5,727.1 595.5,727.2 599.5,727.2 603.5,727.3 607.5,727.2 611.5,726.9 615.5,726.4 619.5,725.6 623.5,724.7 627.5,723.7 631.5,722.7 635.5,721.7 639.5,720.6 643.5,719.5 647.5,718.6 651.5,717.8 655.5,716.9 659.5,715.9 663.5,714.9 667.5,713.7 671.5,712.5 675.5,711.2 679.5,709.9 683.5,708.6 687.5,707.4 691.5,706.5 695.5,705.9 699.5,705.6 703.5,705.7 707.5,706.0 711.5,706.5 715.5,707.3 719.5,708.5 723.5,709.7 727.5,711.0 731.5,712.4 735.5,713.8 739.5,714.9 743.5,715.8 747.5,716.8 751.5,717.6 755.5,718.2 759.5,718.6 763.5,718.8 767.5,718.9 771.5,718.9 775.5,718.9 779.5,718.9 783.5,718.7 787.5,718.0 791.5,717.1 795.5,716.1 799.5,715.1 803.5,714.3 807.5,713.7 811.5,713.6 815.5,713.7 819.5,714.3 823.5,715.3 827.5,716.7 831.5,718.1 835.5,719.4 839.5,720.3 843.5,720.9 847.5,721.3 851.5,721.3 855.5,721.2 859.5,720.9 863.5,720.4 867.5,720.0 871.5,719.6 875.5,719.4 879.5,719.5 883.5,719.5 887.5,719.7 891.5,719.9 895.5,720.2 899.5,720.5 903.5,721.0 907.5,721.6 911.5,722.4 915.5,723.2 919.5,724.2 923.5,725.1 927.5,725.9 931.5,726.9 935.5,727.8 939.5,728.6 943.5,729.3 947.5,729.7 951.5,729.9 955.5,730.0 959.5,729.9 963.5,729.7 967.5,729.1 971.5,728.2 975.5,727.2 979.5,726.1 983.5,724.9 987.5,723.7 991.5,722.5 995.5,721.6 999.5,720.8 1003.5,720.3 1007.5,720.2 1011.5,720.3 1015.5,720.5 1019.5,720.8 1023.5,721.2 1027.5,721.6 1031.5,721.8 1035.5,721.8 1039.5,721.7 1043.5,721.7 1047.5,721.5 1051.5,721.3 1055.5,720.9 1059.5,720.5 1063.5,720.2 1067.5,720.2 1071.5,720.3 1075.5,720.2 1079.5,719.9 1083.5,719.7 1087.5,719.3 1091.5,718.9 1095.5,718.5 1099.5,717.8 1103.5,716.9 1107.5,716.0 1111.5,715.1 1115.5,714.3 1119.5,713.5 1123.5,713.0 1127.5,712.6 1131.5,712.5 1135.5,712.6 1139.5,712.9 1143.5,713.3 1147.5,713.8 1151.5,714.6 1155.5,715.3 1159.5,715.9 1163.5,716.5 1167.5,717.1 1171.5,717.6 1175.5,718.1 1179.5,718.6 1183.5,719.2 1187.5,719.8 1191.5,720.2 1195.5,720.5 1199.5,720.7 1203.5,720.8 1207.5,720.7 1211.5,720.6 1215.5,720.3 1219.5,719.8 1223.5,719.1 1227.5,718.6 1231.5,718.2 1235.5,718.0 1239.5,717.9 1243.5,718.2 1247.5,718.5 1251.5,719.0 1255.5,719.8" fill="none" stroke="#ff0000" stroke-width="1" stroke-dasharray="3,3"/>
<text x="7.4" y="665" font-family="Liberation Sans, sans-serif" text-rendering="geometricPrecision" font-size="9.6" fill="#000" stroke="#000" stroke-width="0.18" textLength="153.6" lengthAdjust="spacingAndGlyphs">MACD(12,26,9) -0.005595 -0.003247</text>
<rect x="1580" y="654" width="2" height="1" fill="#000" />
<text x="1583" y="662.8" font-family="Liberation Sans, sans-serif" text-rendering="geometricPrecision" font-size="9.6" fill="#000" stroke="#000" stroke-width="0.18" textLength="38" lengthAdjust="spacingAndGlyphs">0.032972</text>
<rect x="1580" y="714" width="2" height="1" fill="#000" />
<text x="1583" y="717.5" font-family="Liberation Sans, sans-serif" text-rendering="geometricPrecision" font-size="9.6" fill="#000" stroke="#000" stroke-width="0.18" textLength="18.5" lengthAdjust="spacingAndGlyphs">0.00</text>
<rect x="1580" y="747" width="2" height="1" fill="#000" />
<text x="1583" y="745" font-family="Liberation Sans, sans-serif" text-rendering="geometricPrecision" font-size="9.6" fill="#000" stroke="#000" stroke-width="0.18" textLength="43" lengthAdjust="spacingAndGlyphs">-0.018154</text>
<rect x="3" y="749" width="1" height="3" fill="#000" />
<text transform="translate(3,761) scale(0.935,1)" font-family="Liberation Sans, sans-serif" text-rendering="geometricPrecision" font-size="9.6" fill="#000" stroke="#000" stroke-width="0.18">14 Mar 2020</text>
<rect x="67" y="749" width="1" height="3" fill="#000" />
<text transform="translate(67,761) scale(0.935,1)" font-family="Liberation Sans, sans-serif" text-rendering="geometricPrecision" font-size="9.6" fill="#000" stroke="#000" stroke-width="0.18">2 Apr 2020</text>
<rect x="131" y="749" width="1" height="3" fill="#000" />
<text transform="translate(131,761) scale(0.935,1)" font-family="Liberation Sans, sans-serif" text-rendering="geometricPrecision" font-size="9.6" fill="#000" stroke="#000" stroke-width="0.18">21 Apr 2020</text>
<rect x="195" y="749" width="1" height="3" fill="#000" />
<text transform="translate(195,761) scale(0.935,1)" font-family="Liberation Sans, sans-serif" text-rendering="geometricPrecision" font-size="9.6" fill="#000" stroke="#000" stroke-width="0.18">9 May 2020</text>
<rect x="259" y="749" width="1" height="3" fill="#000" />
<text transform="translate(259,761) scale(0.935,1)" font-family="Liberation Sans, sans-serif" text-rendering="geometricPrecision" font-size="9.6" fill="#000" stroke="#000" stroke-width="0.18">28 May 2020</text>
<rect x="323" y="749" width="1" height="3" fill="#000" />
<text transform="translate(323,761) scale(0.935,1)" font-family="Liberation Sans, sans-serif" text-rendering="geometricPrecision" font-size="9.6" fill="#000" stroke="#000" stroke-width="0.18">16 Jun 2020</text>
<rect x="387" y="749" width="1" height="3" fill="#000" />
<text transform="translate(387,761) scale(0.935,1)" font-family="Liberation Sans, sans-serif" text-rendering="geometricPrecision" font-size="9.6" fill="#000" stroke="#000" stroke-width="0.18">4 Jul 2020</text>
<rect x="451" y="749" width="1" height="3" fill="#000" />
<text transform="translate(451,761) scale(0.935,1)" font-family="Liberation Sans, sans-serif" text-rendering="geometricPrecision" font-size="9.6" fill="#000" stroke="#000" stroke-width="0.18">23 Jul 2020</text>
<rect x="515" y="749" width="1" height="3" fill="#000" />
<text transform="translate(515,761) scale(0.935,1)" font-family="Liberation Sans, sans-serif" text-rendering="geometricPrecision" font-size="9.6" fill="#000" stroke="#000" stroke-width="0.18">11 Aug 2020</text>
<rect x="579" y="749" width="1" height="3" fill="#000" />
<text transform="translate(579,761) scale(0.935,1)" font-family="Liberation Sans, sans-serif" text-rendering="geometricPrecision" font-size="9.6" fill="#000" stroke="#000" stroke-width="0.18">29 Aug 2020</text>
<rect x="643" y="749" width="1" height="3" fill="#000" />
<text transform="translate(643,761) scale(0.935,1)" font-family="Liberation Sans, sans-serif" text-rendering="geometricPrecision" font-size="9.6" fill="#000" stroke="#000" stroke-width="0.18">17 Sep 2020</text>
<rect x="707" y="749" width="1" height="3" fill="#000" />
<text transform="translate(707,761) scale(0.935,1)" font-family="Liberation Sans, sans-serif" text-rendering="geometricPrecision" font-size="9.6" fill="#000" stroke="#000" stroke-width="0.18">6 Oct 2020</text>
<rect x="771" y="749" width="1" height="3" fill="#000" />
<text transform="translate(771,761) scale(0.935,1)" font-family="Liberation Sans, sans-serif" text-rendering="geometricPrecision" font-size="9.6" fill="#000" stroke="#000" stroke-width="0.18">24 Oct 2020</text>
<rect x="835" y="749" width="1" height="3" fill="#000" />
<text transform="translate(835,761) scale(0.935,1)" font-family="Liberation Sans, sans-serif" text-rendering="geometricPrecision" font-size="9.6" fill="#000" stroke="#000" stroke-width="0.18">12 Nov 2020</text>
<rect x="899" y="749" width="1" height="3" fill="#000" />
<text transform="translate(899,761) scale(0.935,1)" font-family="Liberation Sans, sans-serif" text-rendering="geometricPrecision" font-size="9.6" fill="#000" stroke="#000" stroke-width="0.18">1 Dec 2020</text>
<rect x="963" y="749" width="1" height="3" fill="#000" />
<text transform="translate(963,761) scale(0.935,1)" font-family="Liberation Sans, sans-serif" text-rendering="geometricPrecision" font-size="9.6" fill="#000" stroke="#000" stroke-width="0.18">19 Dec 2020</text>
<rect x="1027" y="749" width="1" height="3" fill="#000" />
<text transform="translate(1027,761) scale(0.935,1)" font-family="Liberation Sans, sans-serif" text-rendering="geometricPrecision" font-size="9.6" fill="#000" stroke="#000" stroke-width="0.18">9 Jan 2021</text>
<rect x="1091" y="749" width="1" height="3" fill="#000" />
<text transform="translate(1091,761) scale(0.935,1)" font-family="Liberation Sans, sans-serif" text-rendering="geometricPrecision" font-size="9.6" fill="#000" stroke="#000" stroke-width="0.18">28 Jan 2021</text>
<rect x="1155" y="749" width="1" height="3" fill="#000" />
<text transform="translate(1155,761) scale(0.935,1)" font-family="Liberation Sans, sans-serif" text-rendering="geometricPrecision" font-size="9.6" fill="#000" stroke="#000" stroke-width="0.18">16 Feb 2021</text>
<rect x="1219" y="749" width="1" height="3" fill="#000" />
<text transform="translate(1219,761) scale(0.935,1)" font-family="Liberation Sans, sans-serif" text-rendering="geometricPrecision" font-size="9.6" fill="#000" stroke="#000" stroke-width="0.18">6 Mar 2021</text>
<rect x="0" y="769" width="1622" height="1" fill="#e3e3e3" />
<rect x="0" y="771" width="313" height="1" fill="#000000" />
<rect x="415" y="771" width="1207" height="1" fill="#000000" />
<rect x="0" y="773" width="1621" height="18" fill="#f0f0f0" />
<rect x="0" y="791" width="1622" height="1" fill="#ffffff" />
<rect x="0" y="792" width="1621" height="3" fill="#f0f0f0" />
<rect x="108" y="774" width="1" height="14" fill="#6e6e6e" />
<rect x="208" y="774" width="1" height="14" fill="#6e6e6e" />
<rect x="521" y="774" width="1" height="14" fill="#6e6e6e" />
<rect x="625" y="774" width="1" height="14" fill="#6e6e6e" />
<rect x="716" y="774" width="1" height="14" fill="#6e6e6e" />
<rect x="808" y="774" width="1" height="14" fill="#6e6e6e" />
<rect x="880" y="774" width="1" height="14" fill="#6e6e6e" />
<rect x="960" y="774" width="1" height="14" fill="#6e6e6e" />
<rect x="1040" y="774" width="1" height="14" fill="#6e6e6e" />
<rect x="1120" y="774" width="1" height="14" fill="#6e6e6e" />
<rect x="1196" y="774" width="1" height="14" fill="#6e6e6e" />
<rect x="1280" y="774" width="1" height="14" fill="#6e6e6e" />
<rect x="1364" y="774" width="1" height="14" fill="#6e6e6e" />
<rect x="1444" y="774" width="1" height="14" fill="#6e6e6e" />
<rect x="1544" y="774" width="1" height="14" fill="#6e6e6e" />
<rect x="313" y="771" width="102" height="18" fill="#ffffff" />
<rect x="312" y="771" width="1" height="19" fill="#000" />
<rect x="415" y="771" width="1" height="19" fill="#000" />
<rect x="312" y="789" width="104" height="1" fill="#000" />
<text x="16.3" y="786" font-family="Liberation Sans, sans-serif" text-rendering="geometricPrecision" font-size="12.2" fill="#585858" textLength="79.5" lengthAdjust="spacingAndGlyphs">EURUSD,Daily</text>
<text x="118.3" y="786" font-family="Liberation Sans, sans-serif" text-rendering="geometricPrecision" font-size="12.2" fill="#585858" textLength="78.4" lengthAdjust="spacingAndGlyphs">USDCHF,Daily</text>
<text x="219.2" y="786" font-family="Liberation Sans, sans-serif" text-rendering="geometricPrecision" font-size="12.2" fill="#585858" textLength="82.5" lengthAdjust="spacingAndGlyphs">AUDUSD,Daily</text>
<text x="323.3" y="786" font-family="Liberation Sans, sans-serif" text-rendering="geometricPrecision" font-size="12.2" fill="#000000" textLength="81.0" lengthAdjust="spacingAndGlyphs">USDCAD,Daily</text>
<text x="426.7" y="786" font-family="Liberation Sans, sans-serif" text-rendering="geometricPrecision" font-size="12.2" fill="#585858" textLength="82.6" lengthAdjust="spacingAndGlyphs">USDCNH,Daily</text>
<text x="532.3" y="786" font-family="Liberation Sans, sans-serif" text-rendering="geometricPrecision" font-size="12.2" fill="#585858" textLength="79.4" lengthAdjust="spacingAndGlyphs">EURUSD,Daily</text>
<text x="636" y="786" font-family="Liberation Sans, sans-serif" text-rendering="geometricPrecision" font-size="12.2" fill="#585858" textLength="68" lengthAdjust="spacingAndGlyphs">GBPUSD,H4</text>
<text x="726.7" y="786" font-family="Liberation Sans, sans-serif" text-rendering="geometricPrecision" font-size="12.2" fill="#585858" textLength="69.3" lengthAdjust="spacingAndGlyphs">XAUUSD,H4</text>
<text x="819.3" y="786" font-family="Liberation Sans, sans-serif" text-rendering="geometricPrecision" font-size="12.2" fill="#585858" textLength="49.0" lengthAdjust="spacingAndGlyphs">HK50,H1</text>
<text x="891.7" y="786" font-family="Liberation Sans, sans-serif" text-rendering="geometricPrecision" font-size="12.2" fill="#585858" textLength="56.0" lengthAdjust="spacingAndGlyphs">UK100,H1</text>
<text x="971.7" y="786" font-family="Liberation Sans, sans-serif" text-rendering="geometricPrecision" font-size="12.2" fill="#585858" textLength="56.0" lengthAdjust="spacingAndGlyphs">UK100,H1</text>
<text x="1050.8" y="786" font-family="Liberation Sans, sans-serif" text-rendering="geometricPrecision" font-size="12.2" fill="#585858" textLength="57.2" lengthAdjust="spacingAndGlyphs">GER30,H1</text>
<text x="1129.6" y="786" font-family="Liberation Sans, sans-serif" text-rendering="geometricPrecision" font-size="12.2" fill="#585858" textLength="55.4" lengthAdjust="spacingAndGlyphs">FRA40,H1</text>
<text x="1205.6" y="786" font-family="Liberation Sans, sans-serif" text-rendering="geometricPrecision" font-size="12.2" fill="#585858" textLength="63.8" lengthAdjust="spacingAndGlyphs">USOil,Daily</text>
<text x="1289.8" y="786" font-family="Liberation Sans, sans-serif" text-rendering="geometricPrecision" font-size="12.2" fill="#585858" textLength="63.1" lengthAdjust="spacingAndGlyphs">USDJPY,H1</text>
<text x="1373.3" y="786" font-family="Liberation Sans, sans-serif" text-rendering="geometricPrecision" font-size="12.2" fill="#585858" textLength="59.2" lengthAdjust="spacingAndGlyphs">DJ30,Daily</text>
<text x="1454.3" y="786" font-family="Liberation Sans, sans-serif" text-rendering="geometricPrecision" font-size="12.2" fill="#585858" textLength="78.1" lengthAdjust="spacingAndGlyphs">CHINA300,H1</text>
<text x="1554" y="786" font-family="Liberation Sans, sans-serif" text-rendering="geometricPrecision" font-size="12.2" fill="#585858" textLength="34" lengthAdjust="spacingAndGlyphs">USOil,</text>
<path d="M1598.5 776.5 L1598.5 784 L1594.5 780.25 Z" fill="#a0a0a0" shape-rendering="auto"/>
<path d="M1613.5 776.5 L1613.5 784 L1617.5 780.25 Z" fill="#000" shape-rendering="auto"/>
</svg>
</body></html>
